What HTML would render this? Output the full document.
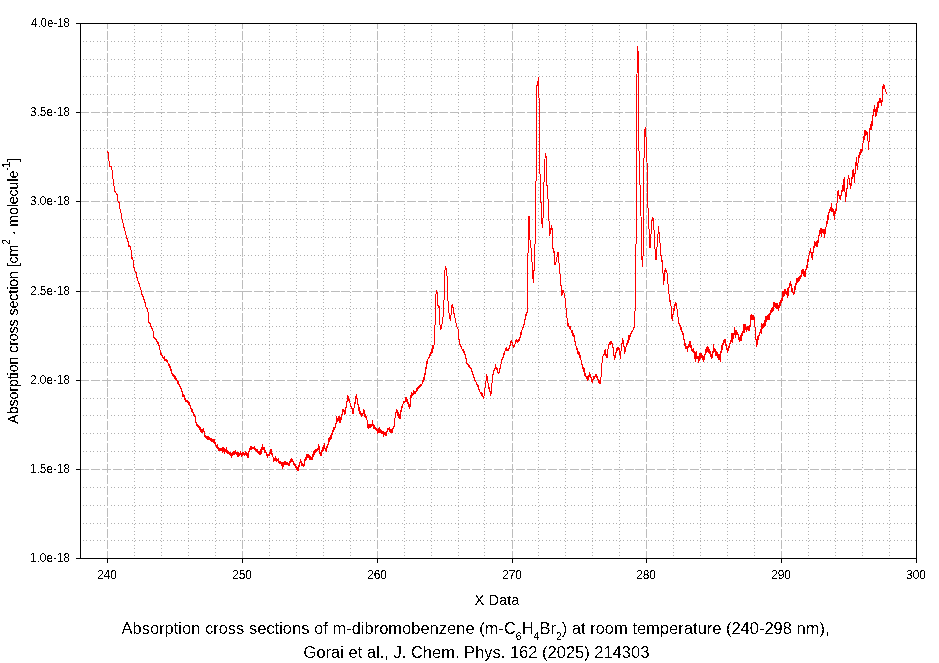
<!DOCTYPE html>
<html><head><meta charset="utf-8"><style>
html,body{margin:0;padding:0;background:#fff;}
body{width:939px;height:663px;overflow:hidden;position:relative;}
svg{position:absolute;left:0;top:0;}
text{font-family:"Liberation Sans",sans-serif;fill:#000;}
</style></head><body>
<svg width="939" height="663" viewBox="0 0 939 663">
<rect x="0" y="0" width="939" height="663" fill="#fff"/>

<path d="M134.5,24V558M161.5,24V558M188.5,24V558M215.5,24V558M269.5,24V558M296.5,24V558M323.5,24V558M350.5,24V558M404.5,24V558M431.5,24V558M458.5,24V558M484.5,24V558M538.5,24V558M565.5,24V558M592.5,24V558M619.5,24V558M673.5,24V558M700.5,24V558M727.5,24V558M754.5,24V558M808.5,24V558M835.5,24V558M862.5,24V558M889.5,24V558" stroke="#b0b0b0" stroke-width="1" stroke-dasharray="1 2.511" stroke-dashoffset="2.511" shape-rendering="crispEdges" fill="none"/>
<path d="M81,540.5H916M81,523.5H916M81,505.5H916M81,487.5H916M81,451.5H916M81,433.5H916M81,415.5H916M81,398.5H916M81,362.5H916M81,344.5H916M81,326.5H916M81,308.5H916M81,273.5H916M81,255.5H916M81,237.5H916M81,219.5H916M81,183.5H916M81,166.5H916M81,148.5H916M81,130.5H916M81,94.5H916M81,76.5H916M81,59.5H916M81,41.5H916" stroke="#b0b0b0" stroke-width="1" stroke-dasharray="1 2.511" stroke-dashoffset="2.011" shape-rendering="crispEdges" fill="none"/>
<path d="M107.5,24V559M242.5,24V559M377.5,24V559M512.5,24V559M646.5,24V559M781.5,24V559" stroke="#bcbcbc" stroke-width="1" stroke-dasharray="9 1.833" stroke-dashoffset="3.833" shape-rendering="crispEdges" fill="none"/>
<path d="M81,469.5H916M81,380.5H916M81,291.5H916M81,201.5H916M81,112.5H916" stroke="#bcbcbc" stroke-width="1" stroke-dasharray="9 1.889" stroke-dashoffset="0.9" shape-rendering="crispEdges" fill="none"/>
<rect x="80.5" y="23.5" width="836" height="535" fill="none" stroke="#000" stroke-width="1"/>
<path d="M76,558.5H80M76,469.5H80M76,380.5H80M76,291.5H80M76,201.5H80M76,112.5H80M76,23.5H80M107.5,558V563M242.5,558V563M377.5,558V563M512.5,558V563M646.5,558V563M781.5,558V563M916.5,558V563" stroke="#000" stroke-width="1" fill="none"/>
<path d="M107.40,151.7 L107.58,152.0 L107.76,151.7 L107.94,152.0 L108.12,151.9 L108.30,152.7 L108.50,156.2 L108.70,159.1 L108.88,160.4 L109.06,161.7 L109.24,163.1 L109.42,165.3 L109.60,166.4 L109.76,166.0 L109.92,166.8 L110.07,165.9 L110.23,166.7 L110.39,166.9 L110.55,166.6 L110.71,166.1 L110.87,167.0 L111.03,166.4 L111.18,166.7 L111.34,167.0 L111.50,167.1 L111.67,168.4 L111.85,169.7 L112.03,170.2 L112.20,172.3 L112.40,174.0 L112.60,175.6 L112.80,178.5 L112.97,178.9 L113.13,180.2 L113.30,181.4 L113.47,181.7 L113.63,182.5 L113.80,183.0 L113.95,185.2 L114.10,186.5 L114.25,187.1 L114.40,188.3 L114.55,189.4 L114.70,190.8 L114.86,191.2 L115.03,191.3 L115.19,191.4 L115.35,192.1 L115.51,192.7 L115.67,192.9 L115.84,192.8 L116.00,193.2 L116.16,193.2 L116.33,193.2 L116.49,193.5 L116.65,193.6 L116.81,194.6 L116.97,194.1 L117.14,194.7 L117.30,194.9 L117.45,196.8 L117.60,197.7 L117.75,199.2 L117.90,200.0 L118.06,200.9 L118.23,201.5 L118.39,202.1 L118.55,202.4 L118.71,202.8 L118.88,202.7 L119.04,203.0 L119.20,202.9 L119.36,204.6 L119.51,205.6 L119.67,205.9 L119.83,207.2 L119.99,208.8 L120.14,209.7 L120.30,210.3 L120.45,211.2 L120.60,211.8 L120.75,211.9 L120.90,211.9 L121.05,213.1 L121.20,213.6 L121.36,214.1 L121.52,215.4 L121.68,216.8 L121.84,218.1 L122.00,219.1 L122.16,219.9 L122.31,221.0 L122.47,220.5 L122.63,221.3 L122.79,222.2 L122.94,222.8 L123.10,223.5 L123.25,223.7 L123.40,224.6 L123.55,224.9 L123.70,225.8 L123.85,226.8 L124.00,227.6 L124.15,227.8 L124.30,228.4 L124.45,230.7 L124.60,230.4 L124.76,230.8 L124.92,230.3 L125.07,231.8 L125.23,232.8 L125.39,232.8 L125.55,233.6 L125.71,233.4 L125.87,233.5 L126.03,234.9 L126.18,236.0 L126.34,236.3 L126.50,236.9 L126.66,236.5 L126.83,237.4 L126.99,238.7 L127.15,238.8 L127.31,239.2 L127.47,240.6 L127.64,240.4 L127.80,241.9 L127.97,242.2 L128.13,241.8 L128.30,243.5 L128.47,244.7 L128.63,244.2 L128.80,244.9 L128.96,247.0 L129.12,245.5 L129.28,245.7 L129.44,246.5 L129.60,245.6 L129.76,246.4 L129.92,245.3 L130.08,246.0 L130.24,246.8 L130.40,247.7 L130.60,248.4 L130.80,249.2 L131.00,249.4 L131.20,255.2 L131.40,258.3 L131.56,258.2 L131.72,257.0 L131.88,258.2 L132.04,258.2 L132.20,258.5 L132.36,258.4 L132.52,258.0 L132.68,258.8 L132.84,258.5 L133.00,259.6 L133.20,261.9 L133.40,263.2 L133.60,266.8 L133.76,267.0 L133.93,267.5 L134.09,267.9 L134.25,267.6 L134.41,269.4 L134.57,269.4 L134.74,270.6 L134.90,270.0 L135.06,271.3 L135.22,271.3 L135.39,271.1 L135.55,271.8 L135.71,272.2 L135.88,272.8 L136.04,273.4 L136.20,272.8 L136.35,273.9 L136.50,274.9 L136.65,274.8 L136.80,275.7 L136.96,277.4 L137.12,277.8 L137.29,278.1 L137.45,279.0 L137.61,279.7 L137.78,279.9 L137.94,280.7 L138.10,282.1 L138.26,282.4 L138.43,283.0 L138.59,283.6 L138.75,283.3 L138.91,284.0 L139.07,283.7 L139.24,285.0 L139.40,286.0 L139.57,285.5 L139.74,286.2 L139.91,286.4 L140.09,287.8 L140.26,287.3 L140.43,287.6 L140.60,288.6 L140.76,289.0 L140.93,289.4 L141.09,290.0 L141.25,290.4 L141.41,292.4 L141.57,292.1 L141.74,293.4 L141.90,294.5 L142.06,294.5 L142.22,294.7 L142.39,294.7 L142.55,295.4 L142.71,296.3 L142.88,296.2 L143.04,296.0 L143.20,296.4 L143.36,297.4 L143.52,297.2 L143.69,298.3 L143.85,299.3 L144.01,298.8 L144.18,300.3 L144.34,300.5 L144.50,300.4 L144.66,301.9 L144.82,300.8 L144.99,302.4 L145.15,303.9 L145.31,304.2 L145.48,304.9 L145.64,305.5 L145.80,305.4 L146.00,307.1 L146.20,308.0 L146.40,307.6 L146.55,308.3 L146.70,308.5 L146.85,308.0 L147.00,309.4 L147.15,308.0 L147.30,309.4 L147.45,310.1 L147.60,309.8 L147.75,310.6 L147.90,309.5 L148.06,312.7 L148.22,314.0 L148.38,317.5 L148.54,318.7 L148.70,322.1 L148.86,321.2 L149.02,321.8 L149.18,322.0 L149.34,322.5 L149.50,323.0 L149.66,322.8 L149.82,323.6 L149.98,323.1 L150.14,323.3 L150.30,323.6 L150.47,324.4 L150.64,324.9 L150.81,324.6 L150.99,326.5 L151.16,327.1 L151.33,328.0 L151.50,328.1 L151.66,328.1 L151.82,328.3 L151.99,328.6 L152.15,328.3 L152.31,329.8 L152.48,330.3 L152.64,330.4 L152.80,330.1 L152.98,331.3 L153.15,331.9 L153.32,336.2 L153.50,335.8 L153.66,336.7 L153.82,336.3 L153.97,337.7 L154.13,337.3 L154.29,337.0 L154.45,337.7 L154.61,337.7 L154.77,337.9 L154.93,339.1 L155.08,339.4 L155.24,339.4 L155.40,338.6 L155.56,339.1 L155.72,339.0 L155.88,339.5 L156.03,339.6 L156.19,340.1 L156.35,339.8 L156.51,341.7 L156.67,340.5 L156.83,340.6 L156.98,341.4 L157.14,342.7 L157.30,343.0 L157.46,342.6 L157.62,341.9 L157.78,343.1 L157.93,343.1 L158.09,342.3 L158.25,343.2 L158.41,343.7 L158.57,345.0 L158.72,344.8 L158.88,344.8 L159.04,345.7 L159.20,345.4 L159.36,346.4 L159.52,348.3 L159.69,347.9 L159.85,349.0 L160.01,350.3 L160.18,351.9 L160.34,351.9 L160.50,352.3 L160.66,354.0 L160.82,354.3 L160.97,353.3 L161.13,354.8 L161.29,353.8 L161.45,355.2 L161.61,354.6 L161.77,355.0 L161.93,355.9 L162.08,355.7 L162.24,356.1 L162.40,356.6 L162.55,357.3 L162.71,357.6 L162.86,357.3 L163.02,356.6 L163.17,358.2 L163.32,357.0 L163.48,358.2 L163.63,358.6 L163.78,358.8 L163.94,357.8 L164.09,359.4 L164.25,357.7 L164.40,359.3 L164.56,356.8 L164.72,360.8 L164.88,358.9 L165.03,359.1 L165.19,359.4 L165.35,359.6 L165.51,359.1 L165.67,360.9 L165.83,360.7 L165.98,360.2 L166.14,361.2 L166.30,359.1 L166.46,361.4 L166.62,361.8 L166.79,360.9 L166.95,360.6 L167.11,360.8 L167.28,362.0 L167.44,361.0 L167.60,362.7 L167.76,362.7 L167.92,362.2 L168.07,364.2 L168.23,364.4 L168.39,364.3 L168.55,363.3 L168.71,364.1 L168.87,365.4 L169.03,365.2 L169.18,366.7 L169.34,364.4 L169.50,367.4 L169.66,367.9 L169.82,368.0 L169.97,366.4 L170.13,366.9 L170.29,368.8 L170.45,369.3 L170.61,368.4 L170.77,370.2 L170.93,369.3 L171.08,370.8 L171.24,369.4 L171.40,370.9 L171.56,370.1 L171.72,371.9 L171.89,373.8 L172.05,373.4 L172.21,373.1 L172.38,374.7 L172.54,373.3 L172.70,376.0 L172.86,374.0 L173.02,375.8 L173.19,374.2 L173.35,375.0 L173.51,376.9 L173.68,374.8 L173.84,376.8 L174.00,375.5 L174.16,375.5 L174.31,377.0 L174.47,377.0 L174.62,377.8 L174.78,378.3 L174.94,378.7 L175.09,376.7 L175.25,377.6 L175.41,376.2 L175.56,378.0 L175.72,379.4 L175.88,379.9 L176.03,379.8 L176.19,378.7 L176.34,380.1 L176.50,379.2 L176.65,379.0 L176.81,379.4 L176.96,380.0 L177.12,380.0 L177.27,381.7 L177.42,382.6 L177.58,381.2 L177.73,383.5 L177.88,381.8 L178.04,383.7 L178.19,382.6 L178.35,383.4 L178.50,383.4 L178.66,383.9 L178.81,381.7 L178.97,385.0 L179.12,385.6 L179.28,384.5 L179.44,385.5 L179.59,385.9 L179.75,386.7 L179.91,385.2 L180.06,387.2 L180.22,387.9 L180.38,386.5 L180.53,387.4 L180.69,388.4 L180.84,386.3 L181.00,389.3 L181.15,388.6 L181.30,388.6 L181.45,388.2 L181.60,390.7 L181.75,390.2 L181.90,389.6 L182.05,392.2 L182.20,391.5 L182.35,392.7 L182.50,393.3 L182.65,391.9 L182.80,392.4 L182.60,395.0 L182.75,396.9 L182.90,396.2 L183.05,394.5 L183.20,396.2 L183.35,395.7 L183.50,396.4 L183.65,395.0 L183.80,395.9 L183.95,395.6 L184.10,394.9 L184.26,395.6 L184.43,395.4 L184.59,396.5 L184.75,399.1 L184.91,397.8 L185.07,400.4 L185.24,398.6 L185.40,399.8 L185.55,401.8 L185.71,400.5 L185.86,399.9 L186.01,400.2 L186.16,401.2 L186.32,401.1 L186.47,400.4 L186.62,401.3 L186.78,400.4 L186.93,401.7 L187.08,399.9 L187.24,402.8 L187.39,402.9 L187.54,401.7 L187.69,401.5 L187.85,400.9 L188.00,401.8 L188.16,403.4 L188.32,402.0 L188.47,401.2 L188.63,403.3 L188.79,403.4 L188.95,404.6 L189.11,402.3 L189.27,402.9 L189.43,405.3 L189.58,403.7 L189.74,403.4 L189.90,404.4 L190.06,405.5 L190.22,407.6 L190.39,406.6 L190.55,406.7 L190.71,407.5 L190.88,408.9 L191.04,408.5 L191.20,409.1 L191.36,411.3 L191.52,410.0 L191.67,411.2 L191.83,409.8 L191.99,411.7 L192.15,411.6 L192.31,412.2 L192.47,411.3 L192.62,409.1 L192.78,410.8 L192.94,412.7 L193.10,412.7 L193.26,414.5 L193.42,412.4 L193.57,413.1 L193.73,415.6 L193.89,415.4 L194.05,415.9 L194.21,414.3 L194.37,416.9 L194.53,415.9 L194.68,415.6 L194.84,415.1 L195.00,416.3 L195.16,418.0 L195.32,419.9 L195.49,419.5 L195.65,417.7 L195.81,422.0 L195.98,422.1 L196.14,424.2 L196.30,424.6 L196.46,424.7 L196.62,425.4 L196.79,425.9 L196.95,423.8 L197.11,424.7 L197.28,424.3 L197.44,426.6 L197.60,425.3 L197.76,426.8 L197.92,425.6 L198.07,426.5 L198.23,427.3 L198.39,427.8 L198.55,425.7 L198.71,427.3 L198.87,427.0 L199.03,426.0 L199.18,429.1 L199.34,426.7 L199.50,428.2 L199.66,428.3 L199.82,429.6 L199.97,428.1 L200.13,427.6 L200.29,429.9 L200.45,429.5 L200.61,428.6 L200.77,431.6 L200.93,429.0 L201.08,430.9 L201.24,431.4 L201.40,432.6 L201.56,430.6 L201.71,432.6 L201.87,429.5 L202.03,431.1 L202.19,430.1 L202.34,431.0 L202.50,431.1 L202.66,431.7 L202.81,429.0 L202.97,432.4 L203.13,431.3 L203.29,428.6 L203.44,431.4 L203.60,430.4 L203.77,431.1 L203.93,430.5 L204.10,433.1 L204.27,431.9 L204.43,435.5 L204.60,434.1 L204.75,436.3 L204.91,434.6 L205.06,435.6 L205.21,437.3 L205.36,437.3 L205.52,437.5 L205.67,436.7 L205.82,435.1 L205.98,435.7 L206.13,437.6 L206.28,437.3 L206.44,438.4 L206.59,438.1 L206.74,436.4 L206.89,436.4 L207.05,436.6 L207.20,437.7 L207.35,439.3 L207.50,439.8 L207.66,439.1 L207.81,437.2 L207.96,437.2 L208.11,438.0 L208.26,438.6 L208.42,439.9 L208.57,437.2 L208.72,438.4 L208.87,436.3 L209.02,438.4 L209.18,438.3 L209.33,438.9 L209.48,439.9 L209.63,437.6 L209.78,437.9 L209.94,438.8 L210.09,440.0 L210.24,439.9 L210.39,441.0 L210.54,439.1 L210.70,438.0 L210.85,440.4 L211.00,440.8 L211.15,439.6 L211.30,441.1 L211.46,439.6 L211.61,438.7 L211.76,439.1 L211.91,441.8 L212.07,440.8 L212.22,441.5 L212.37,440.5 L212.52,440.5 L212.68,439.5 L212.83,441.2 L212.98,441.5 L213.13,439.2 L213.29,440.3 L213.44,440.7 L213.59,440.2 L213.74,439.6 L213.90,442.5 L214.05,442.6 L214.20,443.1 L214.35,440.9 L214.51,439.2 L214.66,443.1 L214.82,443.6 L214.97,442.4 L215.12,442.3 L215.28,443.2 L215.43,446.0 L215.58,445.8 L215.74,445.4 L215.89,444.7 L216.05,444.9 L216.20,445.8 L216.35,446.0 L216.50,447.1 L216.66,445.5 L216.81,447.5 L216.96,448.3 L217.11,446.5 L217.27,447.6 L217.42,448.4 L217.57,444.6 L217.72,446.6 L217.88,448.3 L218.03,447.8 L218.18,448.5 L218.33,450.3 L218.49,447.8 L218.64,449.4 L218.79,447.9 L218.94,448.6 L219.10,450.2 L219.25,448.6 L219.40,450.7 L219.55,449.4 L219.70,450.0 L219.85,450.0 L220.01,448.7 L220.16,448.0 L220.31,448.3 L220.46,449.3 L220.61,448.5 L220.76,450.5 L220.91,450.5 L221.07,448.5 L221.22,448.0 L221.37,448.0 L221.52,449.8 L221.67,450.4 L221.82,449.4 L221.97,450.4 L222.13,448.7 L222.28,452.4 L222.43,448.2 L222.58,449.0 L222.73,449.1 L222.88,448.5 L223.03,446.7 L223.19,449.9 L223.34,451.1 L223.49,450.7 L223.64,449.3 L223.79,450.9 L223.94,450.2 L224.09,451.4 L224.25,449.9 L224.40,448.8 L224.55,450.0 L224.70,453.2 L224.85,449.8 L225.00,451.5 L225.15,448.9 L225.30,450.8 L225.45,450.8 L225.60,451.6 L225.75,451.9 L225.90,451.6 L226.05,451.3 L226.20,452.2 L226.35,451.4 L226.50,449.8 L226.65,447.9 L226.80,449.6 L226.95,452.2 L227.10,451.5 L227.25,451.9 L227.40,450.2 L227.55,453.3 L227.70,453.2 L227.85,452.8 L228.00,452.6 L228.15,452.8 L228.30,453.9 L228.45,452.7 L228.60,453.7 L228.75,451.9 L228.90,453.3 L229.05,452.4 L229.20,453.7 L229.35,453.3 L229.50,453.8 L229.65,454.1 L229.80,452.8 L229.95,454.5 L230.10,452.2 L230.25,453.2 L230.40,453.4 L230.55,454.9 L230.70,453.2 L230.85,455.7 L231.00,455.3 L231.15,455.7 L231.30,453.8 L231.45,454.5 L231.60,454.6 L231.75,457.4 L231.90,454.7 L232.05,454.8 L232.20,453.9 L232.35,453.4 L232.50,454.3 L232.65,454.2 L232.80,455.2 L232.95,452.5 L233.10,452.4 L233.25,453.7 L233.40,451.8 L233.55,451.8 L233.70,452.7 L233.85,454.3 L234.00,454.4 L234.15,454.3 L234.30,451.6 L234.45,452.1 L234.60,454.1 L234.75,451.6 L234.90,452.3 L235.05,452.7 L235.20,450.6 L235.35,452.5 L235.50,451.8 L235.66,452.4 L235.81,454.1 L235.96,453.8 L236.11,454.5 L236.27,452.9 L236.42,452.1 L236.57,452.4 L236.72,454.6 L236.88,453.5 L237.03,453.5 L237.18,454.1 L237.34,452.6 L237.49,453.8 L237.64,455.1 L237.79,456.5 L237.94,454.2 L238.10,454.9 L238.25,454.6 L238.40,453.0 L238.56,452.6 L238.71,456.1 L238.86,453.5 L239.01,454.8 L239.16,454.7 L239.32,455.9 L239.47,454.8 L239.62,453.9 L239.78,455.5 L239.93,453.9 L240.08,454.4 L240.23,453.7 L240.39,454.5 L240.54,451.2 L240.69,453.8 L240.84,453.3 L241.00,455.3 L241.15,454.7 L241.30,454.2 L241.45,456.5 L241.60,453.6 L241.75,453.7 L241.90,455.2 L242.05,455.5 L242.20,453.0 L242.35,454.3 L242.50,455.4 L242.65,454.3 L242.80,452.6 L242.95,453.7 L243.10,453.0 L243.25,453.9 L243.40,452.4 L243.55,453.9 L243.70,454.1 L243.85,453.6 L244.00,455.3 L244.15,455.2 L244.30,454.9 L244.45,454.5 L244.60,453.0 L244.75,454.8 L244.90,454.2 L245.05,453.1 L245.20,452.4 L245.35,454.6 L245.50,452.8 L245.65,454.0 L245.80,451.6 L245.96,454.3 L246.11,453.5 L246.27,452.2 L246.43,453.1 L246.59,453.4 L246.74,453.9 L246.90,455.8 L247.06,455.5 L247.21,453.7 L247.37,453.7 L247.53,454.1 L247.69,455.0 L247.84,456.0 L248.00,458.1 L248.15,456.6 L248.31,454.5 L248.46,454.6 L248.61,453.5 L248.77,451.4 L248.92,452.4 L249.07,451.9 L249.23,450.0 L249.38,451.7 L249.53,450.3 L249.69,451.5 L249.84,448.0 L249.99,448.6 L250.15,449.4 L250.30,448.3 L250.45,447.0 L250.61,449.2 L250.76,448.2 L250.91,446.0 L251.07,446.5 L251.22,447.6 L251.37,449.1 L251.53,447.9 L251.68,448.3 L251.83,448.6 L251.99,446.5 L252.14,449.0 L252.29,448.4 L252.45,448.1 L252.60,447.8 L252.75,447.1 L252.91,448.3 L253.06,447.8 L253.21,448.8 L253.37,447.5 L253.52,447.1 L253.67,447.6 L253.83,448.5 L253.98,448.8 L254.13,448.1 L254.29,449.7 L254.44,446.7 L254.59,447.6 L254.75,447.5 L254.90,447.1 L255.06,449.4 L255.21,448.1 L255.37,450.3 L255.52,450.1 L255.68,450.7 L255.83,449.2 L255.99,449.1 L256.14,450.2 L256.30,449.9 L256.45,449.7 L256.61,451.4 L256.76,449.6 L256.92,450.2 L257.07,449.3 L257.23,452.2 L257.38,451.6 L257.54,450.4 L257.69,452.4 L257.85,452.1 L258.00,451.4 L258.16,451.2 L258.31,451.1 L258.47,452.9 L258.62,453.1 L258.78,453.2 L258.93,452.6 L259.09,455.1 L259.24,452.5 L259.40,453.8 L259.55,453.8 L259.70,451.7 L259.85,451.6 L260.00,450.9 L260.15,453.0 L260.30,454.5 L260.45,449.9 L260.60,449.5 L260.75,449.4 L260.90,449.1 L261.05,453.7 L261.20,450.5 L261.35,448.6 L261.50,448.0 L261.65,449.9 L261.80,448.4 L261.95,449.2 L262.10,447.2 L262.25,449.3 L262.40,446.1 L262.55,444.5 L262.70,449.2 L262.85,447.6 L263.00,447.5 L263.15,449.8 L263.30,447.5 L263.45,448.6 L263.60,449.8 L263.75,449.0 L263.90,449.9 L264.05,449.3 L264.20,448.3 L264.35,447.5 L264.50,451.3 L264.65,449.4 L264.80,452.3 L264.95,450.3 L265.10,452.7 L265.25,451.3 L265.40,451.2 L265.55,452.6 L265.70,450.5 L265.85,452.4 L266.00,452.2 L266.15,454.0 L266.30,452.1 L266.45,452.4 L266.60,453.6 L266.75,455.1 L266.90,452.2 L267.05,454.0 L267.20,455.6 L267.35,455.6 L267.50,454.9 L267.65,457.3 L267.80,454.0 L267.95,453.8 L268.10,455.3 L268.25,455.1 L268.40,454.8 L268.55,454.6 L268.70,454.5 L268.85,455.2 L269.00,455.7 L269.15,455.8 L269.30,453.2 L269.45,452.8 L269.60,453.4 L269.75,454.2 L269.90,452.5 L270.05,454.0 L270.20,452.5 L270.35,449.5 L270.50,452.4 L270.65,451.6 L270.80,451.4 L270.95,451.0 L271.10,453.3 L271.25,451.7 L271.40,451.4 L271.55,449.2 L271.71,451.0 L271.86,452.8 L272.01,455.1 L272.17,454.0 L272.32,455.7 L272.47,453.8 L272.63,455.5 L272.78,455.8 L272.93,456.4 L273.09,457.1 L273.24,457.5 L273.39,460.6 L273.55,460.5 L273.70,461.7 L273.85,460.9 L274.00,460.3 L274.16,460.1 L274.31,460.6 L274.46,458.6 L274.61,458.7 L274.76,460.7 L274.92,458.4 L275.07,458.0 L275.22,458.4 L275.37,458.6 L275.52,456.8 L275.68,460.6 L275.83,458.2 L275.98,461.0 L276.13,457.9 L276.28,458.1 L276.44,459.1 L276.59,461.3 L276.74,458.1 L276.89,459.6 L277.04,459.3 L277.20,459.9 L277.35,459.1 L277.50,459.4 L277.65,460.4 L277.80,460.2 L277.95,459.5 L278.10,458.0 L278.25,458.2 L278.40,459.7 L278.55,460.4 L278.70,461.2 L278.85,461.7 L279.00,462.4 L279.15,461.7 L279.30,462.9 L279.45,461.1 L279.60,463.3 L279.75,463.0 L279.90,462.6 L280.05,461.7 L280.20,462.7 L280.35,463.5 L280.50,463.8 L280.65,461.6 L280.80,462.0 L280.95,461.8 L281.10,463.2 L281.25,463.5 L281.40,463.6 L281.55,463.7 L281.70,465.5 L281.85,466.1 L282.00,465.1 L282.15,464.6 L282.30,468.1 L282.45,462.4 L282.60,465.7 L282.75,465.1 L282.90,463.4 L283.05,462.7 L283.20,465.2 L283.35,465.3 L283.50,462.8 L283.65,465.3 L283.80,464.5 L283.95,466.8 L284.10,462.1 L284.25,464.6 L284.40,464.7 L284.55,462.9 L284.70,463.7 L284.85,461.4 L285.00,462.8 L285.15,461.5 L285.31,464.4 L285.46,462.3 L285.62,463.0 L285.77,462.6 L285.92,463.9 L286.08,463.6 L286.23,463.5 L286.38,463.1 L286.54,462.3 L286.69,462.1 L286.85,464.8 L287.00,464.5 L287.15,463.7 L287.31,463.5 L287.46,463.9 L287.62,464.3 L287.77,462.0 L287.92,464.3 L288.08,464.3 L288.23,463.5 L288.38,465.3 L288.54,465.4 L288.69,464.7 L288.85,465.2 L289.00,465.3 L289.15,465.6 L289.31,463.2 L289.46,464.0 L289.61,462.8 L289.77,462.8 L289.92,461.6 L290.07,463.2 L290.23,462.3 L290.38,462.6 L290.53,460.2 L290.69,459.4 L290.84,460.0 L290.99,458.9 L291.15,459.0 L291.30,459.6 L291.45,458.0 L291.60,458.7 L291.76,461.8 L291.91,461.3 L292.06,459.5 L292.21,461.5 L292.36,459.4 L292.52,461.4 L292.67,459.9 L292.82,461.7 L292.97,461.3 L293.12,461.5 L293.28,463.9 L293.43,461.2 L293.58,463.9 L293.73,462.6 L293.88,465.1 L294.04,465.1 L294.19,465.0 L294.34,463.5 L294.49,464.4 L294.64,463.8 L294.80,464.9 L294.95,465.6 L295.10,463.8 L295.25,464.1 L295.40,467.4 L295.55,467.8 L295.70,465.4 L295.85,466.1 L296.00,466.0 L296.15,468.0 L296.30,466.7 L296.45,468.0 L296.60,466.1 L296.75,469.5 L296.90,468.6 L297.05,468.0 L297.20,470.0 L297.35,467.2 L297.50,470.5 L297.65,468.0 L297.80,468.7 L297.95,471.1 L298.10,468.6 L298.25,469.2 L298.41,470.2 L298.56,469.1 L298.71,467.2 L298.87,469.8 L299.02,464.8 L299.17,464.1 L299.33,466.6 L299.48,463.9 L299.63,464.2 L299.79,462.9 L299.94,462.6 L300.09,461.8 L300.25,460.3 L300.40,461.5 L300.55,459.9 L300.70,462.2 L300.85,460.0 L301.00,462.6 L301.15,462.0 L301.30,461.2 L301.45,463.7 L301.60,461.8 L301.75,465.8 L301.90,462.6 L302.05,464.2 L302.20,465.5 L302.35,465.2 L302.50,463.9 L302.65,466.0 L302.80,465.8 L302.95,464.2 L303.10,467.2 L303.25,465.6 L303.40,464.6 L303.55,466.6 L303.71,466.5 L303.86,464.1 L304.02,464.3 L304.17,465.3 L304.32,459.7 L304.48,465.7 L304.63,461.6 L304.79,461.4 L304.94,462.2 L305.10,459.9 L305.25,459.5 L305.40,460.3 L305.56,458.5 L305.71,458.4 L305.87,457.6 L306.02,459.1 L306.18,459.4 L306.33,458.0 L306.48,456.0 L306.64,454.9 L306.79,455.2 L306.95,454.2 L307.10,457.3 L307.25,454.7 L307.41,456.6 L307.56,454.1 L307.71,456.3 L307.87,455.6 L308.02,455.1 L308.17,457.0 L308.33,457.1 L308.48,455.1 L308.63,454.9 L308.79,457.6 L308.94,457.9 L309.09,456.3 L309.25,455.7 L309.40,459.3 L309.55,457.0 L309.71,459.0 L309.86,457.8 L310.01,456.9 L310.17,456.0 L310.32,457.5 L310.47,458.4 L310.63,459.2 L310.78,457.3 L310.93,458.5 L311.09,457.8 L311.24,460.0 L311.39,458.3 L311.55,457.6 L311.70,458.3 L311.85,459.0 L312.00,459.1 L312.15,459.7 L312.30,456.5 L312.45,457.0 L312.60,457.5 L312.75,455.5 L312.90,454.0 L313.05,455.1 L313.20,454.8 L313.35,453.9 L313.50,456.5 L313.65,456.5 L313.80,451.4 L313.95,454.9 L314.10,455.1 L314.25,451.7 L314.40,452.5 L314.55,452.7 L314.70,452.7 L314.85,450.8 L315.00,450.3 L315.16,452.9 L315.31,451.3 L315.46,452.4 L315.61,452.9 L315.76,449.7 L315.92,450.5 L316.07,450.3 L316.22,449.9 L316.37,449.5 L316.52,451.5 L316.68,449.4 L316.83,450.7 L316.98,451.1 L317.13,448.9 L317.28,448.9 L317.44,449.9 L317.59,449.9 L317.74,448.9 L317.89,448.6 L318.04,448.8 L318.20,444.5 L318.35,448.5 L318.50,448.1 L318.66,449.6 L318.81,447.7 L318.97,449.6 L319.13,446.7 L319.29,451.2 L319.44,451.3 L319.60,451.5 L319.76,452.6 L319.91,453.8 L320.07,451.9 L320.23,453.0 L320.39,453.9 L320.54,454.3 L320.70,454.2 L320.85,454.6 L321.00,455.8 L321.16,454.3 L321.31,454.6 L321.46,452.2 L321.61,451.6 L321.76,453.3 L321.92,450.7 L322.07,449.9 L322.22,452.1 L322.37,449.2 L322.52,449.5 L322.68,450.2 L322.83,448.6 L322.98,447.4 L323.13,445.2 L323.28,450.4 L323.44,449.5 L323.59,446.5 L323.74,447.3 L323.89,448.0 L324.04,445.7 L324.20,445.2 L324.35,448.2 L324.50,446.3 L324.65,443.1 L324.80,446.4 L324.95,447.0 L325.10,449.8 L325.25,448.8 L325.40,450.5 L325.55,450.4 L325.70,450.5 L325.85,450.9 L326.00,450.3 L326.15,452.1 L326.31,451.4 L326.46,448.6 L326.61,447.7 L326.77,450.2 L326.92,446.6 L327.07,448.3 L327.23,445.9 L327.38,444.7 L327.53,445.5 L327.69,444.9 L327.84,445.7 L327.99,445.5 L328.15,443.2 L328.30,444.5 L328.45,440.9 L328.60,443.7 L328.75,440.9 L328.90,441.3 L329.05,437.3 L329.20,440.7 L329.35,441.7 L329.50,441.4 L329.65,441.1 L329.80,438.9 L329.95,437.8 L330.10,436.8 L330.25,439.6 L330.40,438.5 L330.55,435.8 L330.70,438.6 L330.85,435.6 L331.00,436.1 L331.15,437.1 L331.30,437.4 L331.45,438.6 L331.60,435.5 L331.75,435.8 L331.90,433.5 L332.05,433.5 L332.20,434.7 L332.35,433.4 L332.50,434.1 L332.65,433.3 L332.80,432.6 L332.95,430.6 L333.10,432.1 L333.25,428.1 L333.40,427.9 L333.55,428.9 L333.70,429.2 L333.85,430.3 L334.00,429.5 L334.15,429.8 L334.30,427.4 L334.45,428.9 L334.60,428.5 L334.75,428.3 L334.90,429.7 L335.05,427.0 L335.20,424.9 L335.35,424.5 L335.50,427.1 L335.65,424.9 L335.80,426.3 L335.95,423.8 L336.10,422.6 L336.25,423.5 L336.40,421.5 L336.55,420.0 L336.70,419.8 L336.85,416.8 L337.00,421.3 L337.15,418.7 L337.30,418.1 L337.45,419.3 L337.60,419.6 L337.75,421.3 L337.90,418.2 L338.05,418.5 L338.20,417.9 L338.35,420.9 L338.50,418.6 L338.65,420.5 L338.80,420.1 L338.95,416.3 L339.10,418.0 L339.25,421.4 L339.40,420.9 L339.55,416.8 L339.70,420.0 L339.85,416.1 L340.00,423.0 L340.15,421.0 L340.30,419.7 L340.45,421.0 L340.60,417.8 L340.75,419.8 L340.90,418.7 L341.05,417.3 L341.20,418.0 L341.35,415.8 L341.50,419.5 L341.65,416.3 L341.80,416.0 L341.95,414.8 L342.10,413.7 L342.25,414.1 L342.40,414.4 L342.55,410.6 L342.70,412.5 L342.85,409.5 L343.00,412.2 L343.15,411.5 L343.30,409.0 L343.46,411.4 L343.62,410.9 L343.78,409.6 L343.94,410.0 L344.10,411.5 L344.26,410.2 L344.42,410.5 L344.58,411.5 L344.74,411.1 L344.90,414.3 L345.05,413.4 L345.20,411.6 L345.35,410.8 L345.50,410.8 L345.65,407.5 L345.80,408.5 L345.95,408.3 L346.10,406.8 L346.25,406.6 L346.40,405.8 L346.55,403.4 L346.70,404.5 L346.85,401.2 L347.00,402.7 L347.15,400.9 L347.30,398.8 L347.45,398.0 L347.60,397.8 L347.75,399.8 L347.90,395.7 L348.06,397.1 L348.21,396.4 L348.37,398.6 L348.53,399.0 L348.69,400.2 L348.84,399.0 L349.00,399.5 L349.16,402.2 L349.31,399.6 L349.47,402.9 L349.63,399.8 L349.79,402.2 L349.94,401.7 L350.10,404.1 L350.25,405.0 L350.41,404.8 L350.56,405.1 L350.72,405.3 L350.88,405.5 L351.03,407.0 L351.19,407.4 L351.34,408.9 L351.50,406.8 L351.65,408.7 L351.81,408.1 L351.96,408.3 L352.12,409.0 L352.27,409.9 L352.43,408.1 L352.58,410.3 L352.74,411.0 L352.89,413.6 L353.05,413.1 L353.20,412.8 L353.35,413.7 L353.50,412.5 L353.65,410.5 L353.80,410.1 L353.95,408.3 L354.10,407.0 L354.25,406.5 L354.40,407.7 L354.55,406.6 L354.70,404.4 L354.85,402.1 L355.00,402.9 L355.15,402.4 L355.30,403.7 L355.45,401.5 L355.60,396.7 L355.75,397.6 L355.90,397.7 L356.05,395.6 L356.20,393.9 L356.36,396.4 L356.51,397.1 L356.67,396.7 L356.83,398.2 L356.99,398.4 L357.14,399.0 L357.30,399.0 L357.46,403.5 L357.61,401.8 L357.77,404.9 L357.93,404.2 L358.09,404.8 L358.24,405.8 L358.40,407.8 L358.55,408.0 L358.70,405.0 L358.85,410.4 L359.00,408.8 L359.15,411.5 L359.30,410.6 L359.45,407.3 L359.60,411.1 L359.75,413.2 L359.90,413.3 L360.05,413.8 L360.20,412.9 L360.35,413.4 L360.50,411.5 L360.65,413.3 L360.80,414.3 L360.95,415.1 L361.10,413.8 L361.25,413.5 L361.40,417.0 L361.55,416.3 L361.71,414.7 L361.86,416.7 L362.01,415.0 L362.17,413.3 L362.32,415.5 L362.47,415.6 L362.63,415.4 L362.78,414.2 L362.93,413.3 L363.09,414.1 L363.24,412.9 L363.39,412.9 L363.55,409.3 L363.70,411.9 L363.85,413.1 L364.00,414.4 L364.15,416.8 L364.30,410.2 L364.45,412.7 L364.60,413.7 L364.75,414.5 L364.90,414.5 L365.05,416.6 L365.20,414.6 L365.35,416.6 L365.50,417.4 L365.65,417.6 L365.80,414.6 L365.95,418.1 L366.10,418.2 L366.25,416.5 L366.40,416.8 L366.55,417.6 L366.70,417.7 L366.86,418.1 L367.02,420.5 L367.18,424.5 L367.34,424.2 L367.50,425.7 L367.65,426.1 L367.80,425.6 L367.95,427.9 L368.10,424.7 L368.25,428.3 L368.40,427.8 L368.55,424.3 L368.70,427.3 L368.85,425.1 L369.00,427.0 L369.15,426.0 L369.30,425.2 L369.45,424.5 L369.60,426.8 L369.75,425.2 L369.90,427.0 L370.05,427.8 L370.20,425.5 L370.35,427.0 L370.50,425.2 L370.66,425.7 L370.81,424.5 L370.97,424.8 L371.12,425.2 L371.28,425.6 L371.44,426.2 L371.59,424.1 L371.75,425.7 L371.91,425.1 L372.06,426.3 L372.22,425.5 L372.38,423.3 L372.53,425.6 L372.69,420.9 L372.84,423.0 L373.00,426.2 L373.15,425.1 L373.30,428.7 L373.45,424.4 L373.60,427.4 L373.75,424.3 L373.90,427.0 L374.05,424.8 L374.20,425.3 L374.35,425.3 L374.50,426.8 L374.65,428.4 L374.80,428.3 L374.95,426.1 L375.10,427.6 L375.25,428.9 L375.40,428.6 L375.55,427.3 L375.70,427.7 L375.85,429.1 L376.00,429.9 L376.15,428.7 L376.30,428.6 L376.45,429.9 L376.60,430.0 L376.75,430.7 L376.90,430.8 L377.05,430.3 L377.20,428.9 L377.35,431.5 L377.50,431.5 L377.65,431.6 L377.81,431.1 L377.96,434.3 L378.11,432.1 L378.27,431.4 L378.42,432.5 L378.57,430.1 L378.73,430.8 L378.88,431.2 L379.03,427.5 L379.19,430.5 L379.34,431.7 L379.49,430.7 L379.65,432.2 L379.80,432.7 L379.95,433.0 L380.11,430.9 L380.26,430.3 L380.41,429.8 L380.57,431.6 L380.72,432.3 L380.87,430.7 L381.03,430.0 L381.18,430.1 L381.33,433.2 L381.49,432.0 L381.64,432.5 L381.79,430.6 L381.95,431.8 L382.10,433.6 L382.25,431.1 L382.40,433.5 L382.55,431.7 L382.70,432.4 L382.85,434.1 L383.00,431.0 L383.15,433.4 L383.30,431.8 L383.45,433.9 L383.60,431.6 L383.75,437.0 L383.90,432.0 L384.05,434.0 L384.20,434.8 L384.35,433.9 L384.50,432.8 L384.65,433.8 L384.80,434.6 L384.95,434.5 L385.10,434.7 L385.25,432.6 L385.40,433.7 L385.55,432.3 L385.70,433.1 L385.85,434.2 L386.00,436.2 L386.15,431.9 L386.30,431.2 L386.45,432.3 L386.60,431.5 L386.75,432.4 L386.90,431.9 L387.05,430.4 L387.20,430.3 L387.35,431.5 L387.50,431.2 L387.65,428.7 L387.80,428.3 L387.95,427.9 L388.10,429.2 L388.25,429.3 L388.40,429.7 L388.56,428.7 L388.71,429.9 L388.86,428.3 L389.01,430.2 L389.16,431.4 L389.32,427.6 L389.47,429.4 L389.62,428.6 L389.77,431.0 L389.92,429.1 L390.08,431.1 L390.23,432.3 L390.38,429.4 L390.53,431.4 L390.68,432.6 L390.84,429.7 L390.99,429.8 L391.14,431.4 L391.29,429.2 L391.44,431.0 L391.60,432.2 L391.75,430.3 L391.90,431.5 L392.06,432.6 L392.21,432.8 L392.37,429.4 L392.53,432.2 L392.69,428.6 L392.84,429.9 L393.00,427.9 L393.16,427.8 L393.31,426.4 L393.47,428.3 L393.63,427.9 L393.79,427.2 L393.94,427.3 L394.10,426.9 L394.25,425.1 L394.41,423.7 L394.56,423.6 L394.71,423.0 L394.87,420.6 L395.02,417.2 L395.17,418.0 L395.33,417.5 L395.48,415.2 L395.63,414.0 L395.79,412.4 L395.94,412.5 L396.09,413.0 L396.25,409.4 L396.40,409.4 L396.55,411.4 L396.70,409.9 L396.85,410.9 L397.00,409.7 L397.15,410.7 L397.30,415.5 L397.45,413.2 L397.60,412.0 L397.75,412.2 L397.90,412.0 L398.05,415.4 L398.20,412.8 L398.35,415.1 L398.50,414.3 L398.65,414.0 L398.80,414.8 L398.95,417.4 L399.10,417.4 L399.25,418.3 L399.40,414.1 L399.55,416.3 L399.70,415.4 L399.86,415.8 L400.01,419.1 L400.16,411.2 L400.31,413.6 L400.46,410.0 L400.62,411.7 L400.77,413.2 L400.92,411.2 L401.07,412.1 L401.22,410.8 L401.38,410.1 L401.53,410.1 L401.68,410.3 L401.83,408.0 L401.98,406.4 L402.14,405.7 L402.29,406.2 L402.44,405.0 L402.59,405.9 L402.74,406.4 L402.90,407.6 L403.05,403.0 L403.20,403.0 L403.35,403.2 L403.50,401.1 L403.65,401.4 L403.80,403.2 L403.95,403.2 L404.10,402.6 L404.25,401.4 L404.40,401.2 L404.55,401.9 L404.70,401.2 L404.85,401.4 L405.00,400.9 L405.15,401.3 L405.30,398.7 L405.45,399.8 L405.60,398.1 L405.75,399.2 L405.90,397.6 L406.05,397.6 L406.20,397.6 L406.35,398.1 L406.50,399.7 L406.66,399.7 L406.81,399.3 L406.96,401.6 L407.11,398.8 L407.26,399.9 L407.42,403.0 L407.57,402.6 L407.72,400.4 L407.87,404.0 L408.02,402.1 L408.18,403.7 L408.33,404.5 L408.48,402.3 L408.63,404.4 L408.78,402.5 L408.94,406.9 L409.09,404.4 L409.24,406.2 L409.39,405.6 L409.54,405.1 L409.70,408.5 L409.85,406.5 L410.00,407.3 L410.18,404.8 L410.35,399.0 L410.52,400.7 L410.70,395.7 L410.85,398.0 L411.00,394.6 L411.15,397.0 L411.30,397.6 L411.45,392.9 L411.60,395.5 L411.75,396.2 L411.90,396.6 L412.05,394.5 L412.20,393.9 L412.35,395.5 L412.50,393.3 L412.65,393.4 L412.80,395.9 L412.95,394.1 L413.10,393.4 L413.25,393.6 L413.40,393.6 L413.55,394.7 L413.70,394.3 L413.85,390.1 L414.01,393.6 L414.16,392.6 L414.31,393.5 L414.47,392.2 L414.62,393.0 L414.77,392.6 L414.93,391.3 L415.08,393.2 L415.23,391.8 L415.39,393.7 L415.54,391.1 L415.69,391.3 L415.85,391.0 L416.00,391.3 L416.15,390.8 L416.31,391.9 L416.46,388.8 L416.61,390.1 L416.77,391.2 L416.92,389.1 L417.07,389.5 L417.23,389.4 L417.38,388.5 L417.53,390.1 L417.69,387.4 L417.84,390.0 L417.99,387.4 L418.15,388.3 L418.30,387.2 L418.45,387.0 L418.61,387.8 L418.76,386.5 L418.92,387.6 L419.07,387.2 L419.23,387.4 L419.38,385.6 L419.53,386.5 L419.69,386.2 L419.84,385.8 L420.00,385.5 L420.15,386.7 L420.30,386.1 L420.46,384.3 L420.61,384.5 L420.77,386.8 L420.92,384.3 L421.07,384.7 L421.23,384.4 L421.38,384.8 L421.54,385.4 L421.69,385.3 L421.85,384.1 L422.00,384.4 L422.15,384.0 L422.31,381.7 L422.46,383.9 L422.61,383.4 L422.77,380.9 L422.92,382.1 L423.07,381.3 L423.23,379.7 L423.38,379.7 L423.53,381.2 L423.69,377.6 L423.84,379.0 L423.99,378.8 L424.15,378.5 L424.30,377.8 L424.45,376.9 L424.61,379.4 L424.76,373.3 L424.91,375.1 L425.07,374.4 L425.22,370.9 L425.37,372.7 L425.53,371.7 L425.68,370.8 L425.83,367.0 L425.99,369.5 L426.14,366.4 L426.29,367.5 L426.45,366.7 L426.60,364.1 L426.76,365.0 L426.91,361.8 L427.07,364.2 L427.23,363.9 L427.39,362.1 L427.54,361.8 L427.70,360.1 L427.86,360.3 L428.01,358.7 L428.17,358.4 L428.33,358.4 L428.49,357.7 L428.64,357.5 L428.80,358.7 L428.95,358.7 L429.10,355.9 L429.25,357.0 L429.40,357.1 L429.55,355.1 L429.70,357.4 L429.85,355.6 L430.00,353.8 L430.15,355.3 L430.30,355.2 L430.45,355.4 L430.60,352.6 L430.75,352.3 L430.90,352.9 L431.05,353.8 L431.20,353.6 L431.35,353.5 L431.50,352.4 L431.65,350.8 L431.80,349.9 L431.95,350.2 L432.11,349.7 L432.26,352.3 L432.41,350.7 L432.57,349.8 L432.72,345.8 L432.87,350.5 L433.03,345.6 L433.18,345.0 L433.33,347.4 L433.49,345.8 L433.64,348.9 L433.79,346.4 L433.95,345.2 L434.10,344.5 L434.26,343.1 L434.42,339.1 L434.58,335.8 L434.74,334.3 L434.90,331.2 L435.07,322.6 L435.25,315.7 L435.43,308.4 L435.60,300.4 L435.76,298.7 L435.92,295.5 L436.08,293.2 L436.24,291.8 L436.40,290.6 L436.56,292.9 L436.71,292.0 L436.87,291.7 L437.03,292.1 L437.19,293.9 L437.34,294.5 L437.50,295.0 L437.70,299.9 L437.90,305.6 L438.05,305.3 L438.20,305.8 L438.35,305.9 L438.50,306.9 L438.65,307.1 L438.80,306.3 L438.95,307.7 L439.10,306.5 L439.25,307.3 L439.40,306.5 L439.56,312.0 L439.72,315.8 L439.88,320.8 L440.04,326.1 L440.20,329.5 L440.35,329.7 L440.50,329.6 L440.65,328.6 L440.80,328.1 L440.95,329.0 L441.10,328.9 L441.25,327.1 L441.40,327.5 L441.55,328.0 L441.70,326.9 L441.85,325.6 L442.00,324.0 L442.15,323.0 L442.30,322.2 L442.45,322.5 L442.60,320.7 L442.75,319.0 L442.90,318.4 L443.05,317.0 L443.20,315.6 L443.38,314.3 L443.55,310.3 L443.72,308.2 L443.90,305.1 L444.06,298.2 L444.22,291.8 L444.38,285.1 L444.54,278.1 L444.70,270.9 L444.85,271.6 L445.00,269.6 L445.15,268.7 L445.30,268.8 L445.45,266.6 L445.60,266.9 L445.78,267.6 L445.96,268.1 L446.14,267.9 L446.32,268.8 L446.50,269.4 L446.68,270.7 L446.86,272.7 L447.04,276.2 L447.22,278.1 L447.40,279.4 L447.55,286.3 L447.70,289.5 L447.85,296.1 L448.00,300.5 L448.17,301.7 L448.34,304.5 L448.51,307.1 L448.69,309.8 L448.86,310.8 L449.03,313.2 L449.20,315.7 L449.37,315.2 L449.54,315.9 L449.71,317.9 L449.89,318.1 L450.06,319.6 L450.23,320.6 L450.40,320.7 L450.55,319.7 L450.70,316.7 L450.85,316.8 L451.00,315.1 L451.15,312.7 L451.30,310.9 L451.45,308.4 L451.60,307.3 L451.75,305.1 L451.90,305.1 L452.05,304.4 L452.20,306.1 L452.35,306.7 L452.50,305.6 L452.65,306.2 L452.80,306.5 L452.95,307.0 L453.10,309.0 L453.25,307.6 L453.40,309.0 L453.55,309.0 L453.70,310.9 L453.85,312.0 L454.00,314.2 L454.15,313.8 L454.30,313.8 L454.45,314.8 L454.60,315.8 L454.75,316.5 L454.90,318.0 L455.05,318.6 L455.20,319.0 L455.36,320.1 L455.52,319.8 L455.68,322.3 L455.83,321.1 L455.99,323.4 L456.15,323.3 L456.31,324.3 L456.47,325.2 L456.62,324.4 L456.78,323.5 L456.94,327.1 L457.10,327.7 L457.25,328.0 L457.40,327.4 L457.55,328.6 L457.70,328.9 L457.85,327.8 L458.00,329.2 L458.15,329.4 L458.30,330.3 L458.45,330.6 L458.60,330.4 L458.80,339.4 L458.95,339.2 L459.10,341.0 L459.25,340.3 L459.40,339.1 L459.55,341.9 L459.70,340.9 L459.85,344.1 L460.00,345.1 L460.15,344.3 L460.30,344.8 L460.46,346.2 L460.61,346.0 L460.77,345.3 L460.93,346.7 L461.09,347.9 L461.24,346.7 L461.40,346.3 L461.56,347.8 L461.71,348.6 L461.87,349.1 L462.03,348.8 L462.19,349.5 L462.34,349.0 L462.50,349.8 L462.65,350.7 L462.81,349.3 L462.96,349.3 L463.11,349.8 L463.27,351.4 L463.42,351.2 L463.57,350.3 L463.73,352.0 L463.88,352.0 L464.03,352.8 L464.19,351.5 L464.34,353.7 L464.49,352.9 L464.65,352.8 L464.80,353.7 L464.95,354.1 L465.11,355.2 L465.26,354.8 L465.41,357.0 L465.57,356.1 L465.72,357.1 L465.87,358.4 L466.03,358.5 L466.18,359.3 L466.33,361.3 L466.49,361.6 L466.64,361.9 L466.79,361.5 L466.95,363.7 L467.10,364.9 L467.26,363.1 L467.41,364.7 L467.57,364.0 L467.73,363.9 L467.89,364.2 L468.04,364.5 L468.20,365.0 L468.36,364.3 L468.51,366.0 L468.67,365.4 L468.83,366.2 L468.99,366.8 L469.14,366.4 L469.30,365.4 L469.45,367.3 L469.60,366.1 L469.75,366.5 L469.90,367.9 L470.05,367.5 L470.20,367.9 L470.35,367.7 L470.50,367.0 L470.65,367.0 L470.80,367.9 L470.95,368.3 L471.10,368.3 L471.26,368.3 L471.41,370.5 L471.56,370.1 L471.71,371.3 L471.86,370.9 L472.02,371.0 L472.17,372.9 L472.32,372.7 L472.47,372.9 L472.62,374.2 L472.78,374.6 L472.93,374.9 L473.08,374.0 L473.23,375.0 L473.38,376.5 L473.54,375.8 L473.69,377.6 L473.84,378.0 L473.99,377.6 L474.14,377.6 L474.30,378.5 L474.45,378.5 L474.60,380.4 L474.75,379.7 L474.90,380.0 L475.05,380.0 L475.20,381.7 L475.35,380.7 L475.50,381.5 L475.65,381.3 L475.80,380.7 L475.95,381.9 L476.10,382.8 L476.25,383.0 L476.40,384.3 L476.55,383.8 L476.70,384.8 L476.85,383.4 L477.00,385.4 L477.15,385.4 L477.30,385.5 L477.45,385.8 L477.60,386.3 L477.75,386.5 L477.91,384.5 L478.06,386.0 L478.21,387.9 L478.37,388.1 L478.52,388.2 L478.67,389.4 L478.83,388.0 L478.98,388.3 L479.13,390.6 L479.29,390.8 L479.44,391.0 L479.59,390.8 L479.75,390.7 L479.90,391.0 L480.05,392.4 L480.20,392.0 L480.36,393.2 L480.51,393.2 L480.66,392.0 L480.81,392.8 L480.96,392.4 L481.12,392.6 L481.27,394.5 L481.42,394.1 L481.57,394.8 L481.72,393.9 L481.88,395.9 L482.03,392.7 L482.18,396.0 L482.33,396.2 L482.48,395.0 L482.64,395.9 L482.79,396.0 L482.94,396.0 L483.09,396.3 L483.24,397.3 L483.40,398.3 L483.55,397.5 L483.70,397.7 L483.85,396.5 L484.00,396.6 L484.15,395.4 L484.30,393.3 L484.45,391.5 L484.60,390.2 L484.75,389.3 L484.90,389.1 L485.05,387.0 L485.20,386.2 L485.35,386.1 L485.50,384.6 L485.65,383.0 L485.80,382.9 L485.95,381.4 L486.10,379.8 L486.25,377.7 L486.40,379.8 L486.55,375.8 L486.70,374.2 L486.85,375.4 L487.00,376.6 L487.15,376.9 L487.30,377.8 L487.45,380.3 L487.60,379.8 L487.75,381.7 L487.90,381.4 L488.05,383.5 L488.20,384.9 L488.36,385.6 L488.52,384.8 L488.68,385.7 L488.84,387.1 L488.99,388.4 L489.15,388.9 L489.31,387.6 L489.47,389.7 L489.63,390.6 L489.79,391.2 L489.95,392.1 L490.11,391.8 L490.26,392.0 L490.42,393.4 L490.58,393.2 L490.74,394.7 L490.90,395.3 L491.05,392.7 L491.20,390.8 L491.35,389.9 L491.50,388.9 L491.65,386.1 L491.80,384.6 L491.95,384.1 L492.10,380.9 L492.25,379.6 L492.40,377.9 L492.55,376.4 L492.70,375.2 L492.85,374.0 L493.00,374.0 L493.15,374.4 L493.30,374.2 L493.45,374.1 L493.60,370.5 L493.75,372.8 L493.90,371.6 L494.05,370.4 L494.20,370.9 L494.35,370.4 L494.50,370.6 L494.65,369.9 L494.80,368.8 L494.95,369.6 L495.10,367.3 L495.25,368.4 L495.40,367.5 L495.55,365.0 L495.70,366.3 L495.85,366.6 L496.00,367.0 L496.15,366.9 L496.30,368.3 L496.45,368.7 L496.60,369.3 L496.75,367.9 L496.90,368.3 L497.05,369.4 L497.20,370.7 L497.35,368.6 L497.50,370.7 L497.65,371.3 L497.80,371.0 L497.95,372.7 L498.10,372.5 L498.25,372.3 L498.40,373.2 L498.55,372.3 L498.70,372.2 L498.86,373.8 L499.01,372.7 L499.16,372.5 L499.32,371.5 L499.48,369.9 L499.63,370.7 L499.78,368.0 L499.94,369.4 L500.10,368.5 L500.25,366.9 L500.41,365.5 L500.56,364.9 L500.72,365.2 L500.87,364.0 L501.02,364.3 L501.18,362.0 L501.34,363.2 L501.49,360.6 L501.64,361.2 L501.80,361.2 L501.95,359.2 L502.11,358.8 L502.26,359.4 L502.42,359.4 L502.57,358.5 L502.73,357.0 L502.88,357.1 L503.03,357.8 L503.19,356.1 L503.34,356.0 L503.50,355.3 L503.65,355.7 L503.80,355.3 L503.96,353.1 L504.11,352.6 L504.27,354.2 L504.42,353.1 L504.57,352.6 L504.73,351.9 L504.88,351.5 L505.04,351.0 L505.19,348.5 L505.35,350.4 L505.50,350.2 L505.65,348.7 L505.80,348.7 L505.95,348.3 L506.10,347.1 L506.25,348.7 L506.40,349.0 L506.55,348.9 L506.70,350.1 L506.85,350.4 L507.00,349.3 L507.15,349.4 L507.30,349.0 L507.45,349.0 L507.60,350.2 L507.75,350.7 L507.90,348.9 L508.05,350.6 L508.20,350.2 L508.35,348.8 L508.50,350.0 L508.65,348.5 L508.81,350.2 L508.97,348.5 L509.12,348.4 L509.27,347.7 L509.43,346.1 L509.59,347.4 L509.74,345.5 L509.89,345.6 L510.05,346.2 L510.21,344.9 L510.36,341.9 L510.51,343.2 L510.67,343.5 L510.83,343.0 L510.98,341.8 L511.13,341.9 L511.29,340.9 L511.45,342.2 L511.60,341.7 L511.76,341.7 L511.91,341.6 L512.07,342.8 L512.23,343.9 L512.39,342.3 L512.54,343.0 L512.70,343.9 L512.86,343.4 L513.01,345.7 L513.17,346.1 L513.33,345.1 L513.49,345.6 L513.64,347.1 L513.80,347.5 L513.95,347.0 L514.11,345.7 L514.26,345.9 L514.41,344.9 L514.57,345.2 L514.72,344.5 L514.87,344.9 L515.03,343.8 L515.18,343.7 L515.33,341.9 L515.49,343.4 L515.64,340.6 L515.79,341.5 L515.95,340.2 L516.10,340.2 L516.26,340.2 L516.41,340.7 L516.57,339.8 L516.73,341.1 L516.89,340.7 L517.04,340.6 L517.20,341.1 L517.36,342.1 L517.51,342.2 L517.67,341.8 L517.83,340.1 L517.99,341.5 L518.14,340.6 L518.30,340.9 L518.45,341.0 L518.61,340.4 L518.76,341.2 L518.91,339.7 L519.07,339.8 L519.22,340.2 L519.37,339.4 L519.53,339.3 L519.68,338.2 L519.83,337.1 L519.99,337.5 L520.14,337.9 L520.29,336.5 L520.45,336.6 L520.60,336.5 L520.75,335.5 L520.90,332.5 L521.05,334.8 L521.20,333.3 L521.35,333.9 L521.50,331.9 L521.65,332.9 L521.80,331.2 L521.95,329.9 L522.10,329.4 L522.26,329.4 L522.42,328.1 L522.59,328.6 L522.75,327.4 L522.91,329.5 L523.08,326.3 L523.24,326.3 L523.40,327.2 L523.55,325.1 L523.70,325.5 L523.85,324.6 L524.00,324.8 L524.15,323.9 L524.30,323.3 L524.45,321.4 L524.60,320.9 L524.75,321.0 L524.90,319.0 L525.08,318.5 L525.25,319.4 L525.42,317.3 L525.60,318.4 L525.75,314.8 L525.90,315.8 L526.05,314.9 L526.20,315.5 L526.35,313.8 L526.50,313.7 L526.65,315.0 L526.80,314.9 L526.95,312.1 L527.10,313.2 L527.26,304.3 L527.42,293.6 L527.58,281.1 L527.74,273.1 L527.90,262.1 L528.07,247.8 L528.23,231.2 L528.40,216.6 L528.57,216.9 L528.73,218.0 L528.90,218.4 L529.07,218.8 L529.23,217.8 L529.40,216.6 L529.57,224.4 L529.73,232.0 L529.90,238.5 L530.07,240.4 L530.23,241.4 L530.40,243.2 L530.57,243.6 L530.73,244.6 L530.90,247.0 L531.06,249.0 L531.21,250.8 L531.37,253.0 L531.53,256.4 L531.69,258.1 L531.84,260.2 L532.00,261.6 L532.15,264.5 L532.30,267.6 L532.45,269.4 L532.60,272.6 L532.75,275.4 L532.90,276.3 L533.05,279.8 L533.20,282.9 L533.35,280.5 L533.50,278.2 L533.65,276.4 L533.80,273.8 L533.95,271.5 L534.10,269.3 L534.25,266.7 L534.40,264.6 L534.55,262.7 L534.70,260.0 L534.88,251.7 L535.05,242.5 L535.23,234.1 L535.40,224.9 L535.56,214.2 L535.71,202.5 L535.87,191.9 L536.03,180.4 L536.19,169.5 L536.34,158.2 L536.50,147.3 L536.67,126.6 L536.83,106.4 L537.00,85.5 L537.15,85.1 L537.30,84.3 L537.45,84.1 L537.60,82.7 L537.75,82.1 L537.90,80.9 L538.05,80.5 L538.20,79.6 L538.35,78.9 L538.50,78.0 L538.67,84.5 L538.85,91.1 L539.03,97.9 L539.20,104.5 L539.50,161.6 L539.65,165.7 L539.80,168.4 L539.95,172.0 L540.10,175.5 L540.25,178.5 L540.40,182.5 L540.55,186.2 L540.70,189.5 L540.86,195.8 L541.02,202.7 L541.18,208.9 L541.34,215.6 L541.50,221.8 L541.65,222.9 L541.80,223.2 L541.95,224.0 L542.10,225.0 L542.25,225.8 L542.40,226.8 L542.55,227.5 L542.70,227.8 L542.87,222.3 L543.03,217.0 L543.20,210.3 L543.37,205.2 L543.53,199.4 L543.70,193.5 L543.86,187.3 L544.02,181.4 L544.18,175.2 L544.34,169.4 L544.50,162.8 L544.67,161.5 L544.83,159.7 L545.00,158.6 L545.17,157.0 L545.33,155.2 L545.50,154.0 L545.67,155.3 L545.83,155.4 L546.00,156.2 L546.17,157.3 L546.33,159.2 L546.50,158.9 L546.65,167.5 L546.80,174.8 L546.95,182.5 L547.10,189.8 L547.27,190.9 L547.44,194.1 L547.61,195.6 L547.79,197.0 L547.96,198.7 L548.13,200.1 L548.30,202.0 L548.47,207.1 L548.65,212.3 L548.83,216.0 L549.00,220.8 L549.16,223.5 L549.32,227.5 L549.48,230.4 L549.64,233.0 L549.80,236.1 L549.95,234.7 L550.10,233.9 L550.25,233.1 L550.40,231.9 L550.55,231.4 L550.70,229.5 L550.85,229.6 L551.00,228.3 L551.15,228.7 L551.30,225.4 L551.45,227.1 L551.60,227.7 L551.75,227.6 L551.90,229.3 L552.05,228.0 L552.20,229.3 L552.35,228.6 L552.50,229.4 L552.80,248.2 L552.95,248.7 L553.10,248.6 L553.25,249.7 L553.40,249.6 L553.55,250.6 L553.70,250.7 L553.85,251.8 L554.00,252.9 L554.15,251.5 L554.30,252.1 L554.47,255.5 L554.65,258.9 L554.83,262.2 L555.00,265.3 L555.16,264.7 L555.32,264.4 L555.48,263.6 L555.64,263.1 L555.80,262.0 L555.96,262.1 L556.12,262.0 L556.28,261.5 L556.44,260.4 L556.60,261.5 L556.75,260.0 L556.90,257.8 L557.05,256.7 L557.20,256.9 L557.35,256.8 L557.50,255.0 L557.65,254.8 L557.80,252.9 L557.95,253.0 L558.10,252.5 L558.27,254.4 L558.43,255.6 L558.60,257.4 L558.77,260.2 L558.93,261.3 L559.10,263.9 L559.27,265.7 L559.44,266.7 L559.61,269.8 L559.79,271.4 L559.96,273.4 L560.13,275.2 L560.30,276.5 L560.45,280.2 L560.60,280.0 L560.75,281.6 L560.90,284.1 L561.05,286.1 L561.20,287.5 L561.35,290.3 L561.50,290.1 L561.65,293.5 L561.80,294.6 L561.95,295.4 L562.10,294.8 L562.25,293.1 L562.40,293.3 L562.55,292.3 L562.70,292.7 L562.85,290.8 L563.00,291.4 L563.15,291.2 L563.30,290.8 L563.46,291.8 L563.62,292.3 L563.78,291.2 L563.94,292.0 L564.10,293.7 L564.26,294.9 L564.42,295.2 L564.58,296.3 L564.74,294.8 L564.90,297.1 L565.06,298.5 L565.21,299.8 L565.37,301.9 L565.52,301.6 L565.68,304.3 L565.83,306.6 L565.99,307.6 L566.14,309.4 L566.30,311.5 L566.45,311.5 L566.60,314.1 L566.75,314.5 L566.90,318.0 L567.05,317.7 L567.20,319.9 L567.35,321.4 L567.50,324.5 L567.65,325.1 L567.81,324.3 L567.97,325.9 L568.12,323.6 L568.27,326.2 L568.43,326.1 L568.59,324.3 L568.74,324.2 L568.89,325.6 L569.05,327.2 L569.21,326.7 L569.36,327.3 L569.51,329.0 L569.67,326.8 L569.83,328.4 L569.98,327.4 L570.13,327.2 L570.29,327.0 L570.45,326.8 L570.60,327.2 L570.75,329.1 L570.90,328.1 L571.05,330.2 L571.20,330.0 L571.35,331.3 L571.50,330.9 L571.65,331.5 L571.80,331.2 L571.95,332.3 L572.10,333.4 L572.26,335.4 L572.41,333.4 L572.57,330.7 L572.73,334.3 L572.89,335.5 L573.04,333.0 L573.20,334.8 L573.36,335.0 L573.51,334.8 L573.67,335.5 L573.83,336.5 L573.99,335.1 L574.14,335.4 L574.30,336.9 L574.45,336.0 L574.60,338.9 L574.75,340.3 L574.90,341.7 L575.05,341.3 L575.20,341.6 L575.35,345.1 L575.50,344.9 L575.65,344.3 L575.80,345.4 L575.95,345.8 L576.11,346.4 L576.26,349.1 L576.41,348.9 L576.57,349.1 L576.72,349.7 L576.87,349.2 L577.03,348.5 L577.18,350.7 L577.33,349.2 L577.49,352.5 L577.64,353.1 L577.79,350.2 L577.95,354.0 L578.10,354.3 L578.25,352.8 L578.40,352.4 L578.55,352.8 L578.70,353.1 L578.85,351.9 L579.00,351.3 L579.15,355.8 L579.30,353.8 L579.45,355.7 L579.60,356.0 L579.75,357.5 L579.90,357.2 L580.05,358.3 L580.20,355.9 L580.35,357.6 L580.50,356.7 L580.65,359.3 L580.80,357.8 L580.95,359.2 L581.10,360.2 L581.25,360.0 L581.40,360.7 L581.55,360.9 L581.70,363.5 L581.85,362.2 L582.00,365.3 L582.15,366.5 L582.30,364.8 L582.45,366.7 L582.60,367.3 L582.75,369.0 L582.91,367.3 L583.06,369.3 L583.21,371.0 L583.37,368.9 L583.52,371.5 L583.67,369.3 L583.83,367.8 L583.98,371.6 L584.13,368.7 L584.29,373.2 L584.44,371.5 L584.59,372.4 L584.75,374.8 L584.90,375.5 L585.05,375.4 L585.20,373.7 L585.35,374.4 L585.50,374.4 L585.65,376.1 L585.80,376.0 L585.95,377.3 L586.10,376.6 L586.25,376.2 L586.40,377.6 L586.55,377.5 L586.70,377.2 L586.85,378.8 L587.00,378.8 L587.15,376.7 L587.30,377.3 L587.45,377.9 L587.60,378.8 L587.75,378.9 L587.90,380.6 L588.05,379.6 L588.20,377.8 L588.35,378.7 L588.50,377.7 L588.65,375.4 L588.80,376.2 L588.95,376.9 L589.10,375.8 L589.25,375.2 L589.40,373.1 L589.55,375.2 L589.70,372.1 L589.85,374.1 L590.00,375.5 L590.15,374.2 L590.30,376.3 L590.45,376.6 L590.60,375.9 L590.75,377.1 L590.90,376.6 L591.05,378.5 L591.20,377.4 L591.35,379.6 L591.50,378.6 L591.65,379.4 L591.80,381.2 L591.95,379.3 L592.10,379.3 L592.25,381.6 L592.40,382.7 L592.55,380.3 L592.70,381.4 L592.85,379.4 L593.00,379.3 L593.15,379.7 L593.30,378.5 L593.45,376.7 L593.60,378.6 L593.75,378.2 L593.90,376.9 L594.05,376.9 L594.20,377.1 L594.35,378.2 L594.50,378.2 L594.65,376.7 L594.80,376.8 L594.95,377.5 L595.10,377.0 L595.25,377.0 L595.40,375.1 L595.55,376.2 L595.71,376.7 L595.86,374.6 L596.01,374.8 L596.17,374.2 L596.32,376.3 L596.47,377.7 L596.63,376.2 L596.78,375.9 L596.93,377.0 L597.09,377.8 L597.24,378.3 L597.39,377.3 L597.55,376.7 L597.70,378.1 L597.86,377.5 L598.02,379.9 L598.18,379.0 L598.34,382.3 L598.49,381.8 L598.65,382.4 L598.81,381.9 L598.97,381.5 L599.13,380.7 L599.29,381.2 L599.45,383.4 L599.61,380.7 L599.76,382.9 L599.92,384.0 L600.08,384.2 L600.24,384.0 L600.40,383.9 L600.56,383.3 L600.71,380.9 L600.87,377.5 L601.03,376.8 L601.19,371.6 L601.34,371.5 L601.50,366.5 L601.65,367.9 L601.80,364.3 L601.95,364.4 L602.10,361.7 L602.25,361.0 L602.40,360.7 L602.55,360.5 L602.70,358.4 L602.85,357.3 L603.00,356.4 L603.16,355.3 L603.31,354.2 L603.47,355.6 L603.63,355.7 L603.79,355.7 L603.94,355.3 L604.10,354.7 L604.26,353.5 L604.41,354.2 L604.57,353.9 L604.73,352.5 L604.89,350.9 L605.04,349.3 L605.20,350.5 L605.36,351.4 L605.52,352.0 L605.68,355.1 L605.84,353.7 L606.00,354.6 L606.16,354.9 L606.32,357.3 L606.48,357.5 L606.64,357.0 L606.80,357.3 L606.95,357.2 L607.10,357.9 L607.25,355.8 L607.40,354.9 L607.55,354.2 L607.70,353.8 L607.85,352.6 L608.00,349.5 L608.15,348.4 L608.30,346.8 L608.45,348.3 L608.60,345.5 L608.75,347.6 L608.90,344.7 L609.05,343.9 L609.20,343.1 L609.35,344.9 L609.50,344.3 L609.65,343.0 L609.80,342.9 L609.95,342.2 L610.10,343.2 L610.25,343.5 L610.40,341.4 L610.55,342.6 L610.70,342.0 L610.85,344.3 L611.00,342.6 L611.15,341.7 L611.30,343.2 L611.45,342.9 L611.60,342.2 L611.75,343.5 L611.90,343.5 L612.05,343.8 L612.20,344.6 L612.35,345.8 L612.50,343.6 L612.65,345.9 L612.80,344.8 L612.95,347.1 L613.10,349.1 L613.25,347.6 L613.40,348.5 L613.55,349.8 L613.70,353.1 L613.85,352.9 L614.00,355.6 L614.15,354.9 L614.30,357.7 L614.45,358.0 L614.60,357.3 L614.75,359.4 L614.91,358.4 L615.06,357.1 L615.22,357.5 L615.37,355.6 L615.52,354.9 L615.68,355.4 L615.83,354.4 L615.98,351.8 L616.14,352.9 L616.29,352.5 L616.45,349.4 L616.60,349.8 L616.76,350.7 L616.91,349.1 L617.07,348.0 L617.23,349.2 L617.39,348.5 L617.54,347.3 L617.70,349.2 L617.86,350.4 L618.01,349.8 L618.17,348.3 L618.33,348.2 L618.49,348.1 L618.64,347.5 L618.80,349.1 L618.95,347.7 L619.10,350.3 L619.25,348.7 L619.40,349.8 L619.55,353.5 L619.70,352.1 L619.85,354.9 L620.00,353.3 L620.15,357.7 L620.30,358.2 L620.45,355.4 L620.61,355.1 L620.76,354.2 L620.91,351.1 L621.07,351.0 L621.22,348.3 L621.37,348.7 L621.53,347.4 L621.68,344.3 L621.83,344.0 L621.99,343.6 L622.14,343.8 L622.29,339.9 L622.45,340.0 L622.60,339.6 L622.75,338.7 L622.91,340.6 L623.06,339.9 L623.21,342.8 L623.37,346.6 L623.52,345.4 L623.67,344.1 L623.83,345.6 L623.98,345.7 L624.13,348.6 L624.29,350.6 L624.44,350.3 L624.59,349.8 L624.75,352.1 L624.90,354.0 L625.05,350.6 L625.20,351.4 L625.35,351.8 L625.50,350.4 L625.65,348.4 L625.80,349.8 L625.95,347.9 L626.10,345.2 L626.25,347.1 L626.40,345.6 L626.55,346.3 L626.70,343.6 L626.85,344.7 L627.00,342.7 L627.15,344.3 L627.30,343.1 L627.45,341.7 L627.60,341.2 L627.75,342.0 L627.90,340.2 L628.05,342.5 L628.20,341.6 L628.35,339.0 L628.50,339.8 L628.65,338.6 L628.80,338.2 L628.95,335.7 L629.10,339.3 L629.25,335.4 L629.40,338.0 L629.56,338.0 L629.71,335.7 L629.87,338.0 L630.03,335.7 L630.19,334.6 L630.34,336.2 L630.50,336.1 L630.66,333.6 L630.81,334.8 L630.97,333.7 L631.13,332.4 L631.29,332.2 L631.44,333.4 L631.60,333.0 L631.75,332.6 L631.91,332.2 L632.06,330.7 L632.21,330.3 L632.37,331.9 L632.52,331.4 L632.67,330.9 L632.83,330.4 L632.98,330.2 L633.13,330.0 L633.29,327.1 L633.44,328.2 L633.59,329.4 L633.75,328.4 L633.90,328.8 L634.06,327.1 L634.22,324.1 L634.38,322.8 L634.54,320.7 L634.70,318.4 L634.88,314.7 L635.05,309.7 L635.23,304.9 L635.40,300.8 L635.60,245.3 L635.77,245.0 L635.94,244.1 L636.11,244.0 L636.29,243.3 L636.46,242.9 L636.63,242.7 L636.80,242.1 L636.50,102.0 L636.67,92.6 L636.83,83.4 L637.00,74.4 L637.17,65.1 L637.33,55.7 L637.50,46.3 L637.66,47.8 L637.82,48.7 L637.98,50.4 L638.14,51.9 L638.30,52.9 L638.45,94.3 L638.60,135.8 L638.77,141.8 L638.94,148.0 L639.11,153.8 L639.29,160.2 L639.46,166.1 L639.63,172.3 L639.80,178.5 L639.95,183.2 L640.10,187.6 L640.25,192.7 L640.40,197.0 L640.55,201.7 L640.70,206.3 L640.85,210.9 L641.00,216.0 L641.17,225.1 L641.35,234.9 L641.53,244.8 L641.70,254.3 L641.88,257.1 L642.05,260.6 L642.23,263.6 L642.40,266.3 L642.56,263.8 L642.72,260.9 L642.88,257.8 L643.04,255.3 L643.20,253.0 L643.50,179.6 L643.66,173.5 L643.81,166.5 L643.97,160.0 L644.13,153.7 L644.29,146.3 L644.44,139.5 L644.60,132.7 L644.78,131.5 L644.96,129.7 L645.14,128.6 L645.32,127.6 L645.50,127.5 L645.65,129.7 L645.80,134.0 L645.95,135.1 L646.10,139.0 L646.28,144.0 L646.46,148.1 L646.64,152.6 L646.82,157.7 L647.00,162.4 L647.16,169.2 L647.32,177.3 L647.48,185.2 L647.64,192.2 L647.80,200.5 L647.97,206.0 L648.15,213.0 L648.33,218.9 L648.50,224.6 L648.67,226.0 L648.85,228.9 L649.03,229.5 L649.20,231.2 L649.36,234.6 L649.52,238.8 L649.68,240.6 L649.84,244.9 L650.00,247.8 L650.17,247.0 L650.35,245.5 L650.53,244.4 L650.70,242.6 L650.86,238.3 L651.02,233.5 L651.18,230.1 L651.34,224.8 L651.50,220.7 L651.65,221.5 L651.80,220.3 L651.95,219.8 L652.10,220.4 L652.25,219.1 L652.40,219.2 L652.55,219.3 L652.70,219.3 L652.85,220.0 L653.00,217.5 L653.17,220.0 L653.35,221.5 L653.53,223.1 L653.70,223.5 L653.87,228.2 L654.04,230.3 L654.21,233.6 L654.39,237.3 L654.56,241.9 L654.73,245.8 L654.90,248.7 L655.06,249.8 L655.21,251.8 L655.37,252.8 L655.53,254.9 L655.69,256.8 L655.84,257.8 L656.00,260.4 L656.15,258.5 L656.30,255.7 L656.45,255.0 L656.60,252.3 L656.75,251.7 L656.90,249.0 L657.05,246.8 L657.20,245.2 L657.35,243.4 L657.50,240.9 L657.66,239.6 L657.81,237.2 L657.97,234.3 L658.13,231.8 L658.29,230.7 L658.44,230.2 L658.60,226.7 L658.77,229.0 L658.94,230.7 L659.11,232.9 L659.29,234.8 L659.46,237.3 L659.63,239.4 L659.80,240.9 L659.95,242.3 L660.10,243.6 L660.25,246.5 L660.40,247.4 L660.55,249.6 L660.70,252.0 L660.85,253.1 L661.00,255.6 L661.15,255.9 L661.30,258.2 L661.45,258.2 L661.60,259.4 L661.75,261.3 L661.90,260.6 L662.05,261.2 L662.20,260.1 L662.35,261.6 L662.50,261.7 L662.67,266.3 L662.83,270.6 L663.00,272.9 L663.17,278.7 L663.33,282.3 L663.50,285.0 L663.66,283.2 L663.82,283.5 L663.98,281.5 L664.14,278.2 L664.30,277.9 L664.46,276.3 L664.62,274.6 L664.78,273.2 L664.94,271.3 L665.10,268.8 L665.26,269.0 L665.42,268.8 L665.58,271.0 L665.73,271.2 L665.89,270.8 L666.05,270.4 L666.21,272.1 L666.37,270.7 L666.52,272.6 L666.68,272.1 L666.84,271.9 L667.00,272.9 L667.16,274.1 L667.33,276.2 L667.49,276.5 L667.65,280.1 L667.82,280.6 L667.98,284.0 L668.15,284.2 L668.31,285.8 L668.47,289.2 L668.64,290.4 L668.80,292.9 L668.97,293.7 L669.13,295.3 L669.30,296.9 L669.47,300.0 L669.63,298.0 L669.80,300.8 L669.95,301.6 L670.10,300.7 L670.25,301.4 L670.40,303.6 L670.55,303.8 L670.70,305.1 L670.85,305.1 L671.00,306.1 L671.15,306.6 L671.30,308.1 L671.46,308.7 L671.62,312.8 L671.78,315.6 L671.94,318.2 L672.10,320.4 L672.25,319.1 L672.40,317.6 L672.55,316.0 L672.70,317.0 L672.85,314.8 L673.00,314.7 L673.15,313.9 L673.30,312.0 L673.45,310.0 L673.60,309.3 L673.76,310.0 L673.91,308.3 L674.07,307.4 L674.23,310.3 L674.39,306.7 L674.54,306.4 L674.70,304.6 L674.86,304.1 L675.01,303.6 L675.17,305.5 L675.33,303.7 L675.49,304.5 L675.64,302.7 L675.80,303.4 L675.95,304.0 L676.10,304.8 L676.25,305.6 L676.40,303.0 L676.55,307.6 L676.70,308.4 L676.85,308.5 L677.00,309.3 L677.15,309.9 L677.30,310.0 L677.46,311.5 L677.62,312.6 L677.78,314.5 L677.94,315.1 L678.10,319.9 L678.26,318.1 L678.42,320.2 L678.58,321.2 L678.74,322.1 L678.90,322.4 L679.06,324.0 L679.21,323.3 L679.37,324.9 L679.53,325.7 L679.69,324.8 L679.84,324.4 L680.00,326.0 L680.16,326.7 L680.31,325.7 L680.47,327.8 L680.63,328.0 L680.79,329.9 L680.94,327.5 L681.10,327.7 L681.25,330.9 L681.41,329.0 L681.56,329.4 L681.71,331.7 L681.87,331.0 L682.02,331.9 L682.17,331.3 L682.33,333.1 L682.48,331.4 L682.63,334.6 L682.79,333.2 L682.94,333.3 L683.09,335.8 L683.25,333.0 L683.40,333.4 L683.58,337.3 L683.75,336.4 L683.92,339.3 L684.10,340.5 L684.25,342.2 L684.41,342.1 L684.56,339.9 L684.71,342.4 L684.87,343.6 L685.02,345.9 L685.17,344.8 L685.33,343.2 L685.48,346.0 L685.63,346.2 L685.79,345.7 L685.94,347.9 L686.09,349.2 L686.25,348.8 L686.40,346.9 L686.55,348.0 L686.70,347.8 L686.86,348.4 L687.01,346.9 L687.16,350.6 L687.31,346.6 L687.46,351.2 L687.62,346.8 L687.77,346.7 L687.92,347.8 L688.07,344.2 L688.22,347.9 L688.38,345.1 L688.53,346.7 L688.68,347.6 L688.83,345.3 L688.98,345.8 L689.14,342.9 L689.29,342.1 L689.44,346.8 L689.59,344.1 L689.74,345.8 L689.90,341.6 L690.05,341.3 L690.20,342.7 L690.36,345.1 L690.51,342.2 L690.67,347.8 L690.83,343.8 L690.99,346.3 L691.14,349.4 L691.30,345.8 L691.46,351.0 L691.61,350.5 L691.77,348.3 L691.93,347.5 L692.09,349.6 L692.24,350.5 L692.40,349.4 L692.55,349.4 L692.70,350.0 L692.85,349.6 L693.00,352.4 L693.15,348.6 L693.30,350.8 L693.45,350.9 L693.60,351.4 L693.75,352.1 L693.90,352.5 L694.05,352.1 L694.20,358.5 L694.35,351.8 L694.50,356.0 L694.65,355.3 L694.80,354.2 L694.95,357.5 L695.10,357.3 L695.25,357.5 L695.40,356.0 L695.55,355.2 L695.71,361.1 L695.87,362.1 L696.02,351.2 L696.17,358.6 L696.33,354.9 L696.49,355.8 L696.64,355.6 L696.79,355.1 L696.95,355.3 L697.11,359.0 L697.26,358.9 L697.41,359.0 L697.57,357.6 L697.73,356.9 L697.88,356.4 L698.03,358.1 L698.19,358.4 L698.35,359.5 L698.50,357.9 L698.66,359.6 L698.81,356.3 L698.97,362.9 L699.13,353.8 L699.29,359.7 L699.44,356.7 L699.60,355.4 L699.76,356.9 L699.91,357.4 L700.07,353.8 L700.23,358.2 L700.39,353.0 L700.54,355.6 L700.70,353.4 L700.85,353.8 L701.00,352.8 L701.15,355.1 L701.30,357.9 L701.45,353.8 L701.60,357.0 L701.75,356.8 L701.90,355.4 L702.05,354.7 L702.20,358.5 L702.35,355.0 L702.50,359.4 L702.65,358.2 L702.80,356.9 L702.95,360.1 L703.10,357.4 L703.25,356.5 L703.40,357.9 L703.55,359.1 L703.70,359.7 L703.86,361.2 L704.01,359.7 L704.17,358.4 L704.32,356.3 L704.48,354.5 L704.63,354.5 L704.78,358.4 L704.94,353.8 L705.10,354.3 L705.25,352.5 L705.40,349.9 L705.56,354.5 L705.72,350.1 L705.87,352.0 L706.02,352.7 L706.18,349.5 L706.33,351.5 L706.49,349.3 L706.64,350.8 L706.80,347.6 L706.95,346.8 L707.10,350.6 L707.25,346.8 L707.40,348.6 L707.55,347.2 L707.70,348.0 L707.85,347.5 L708.00,351.9 L708.15,347.1 L708.30,352.9 L708.45,352.5 L708.60,350.7 L708.75,351.7 L708.90,350.1 L709.05,349.8 L709.20,351.4 L709.35,350.7 L709.50,354.0 L709.65,349.9 L709.80,350.7 L709.96,353.2 L710.11,354.5 L710.27,351.1 L710.43,354.9 L710.59,351.6 L710.74,356.1 L710.90,352.4 L711.06,354.1 L711.21,354.8 L711.37,354.6 L711.53,356.1 L711.69,357.3 L711.84,358.3 L712.00,357.7 L712.15,356.4 L712.30,354.9 L712.45,356.5 L712.60,351.9 L712.75,355.0 L712.90,351.8 L713.05,352.5 L713.20,351.1 L713.35,348.9 L713.50,350.6 L713.65,346.4 L713.81,344.7 L713.97,351.2 L714.12,349.6 L714.27,349.8 L714.43,351.3 L714.59,348.1 L714.74,351.4 L714.89,350.6 L715.05,352.3 L715.21,353.3 L715.36,352.4 L715.51,349.3 L715.67,352.8 L715.83,355.2 L715.98,353.4 L716.13,351.6 L716.29,351.1 L716.45,355.0 L716.60,355.4 L716.75,351.2 L716.91,351.8 L717.06,352.2 L717.22,355.8 L717.37,353.2 L717.52,355.7 L717.68,353.7 L717.83,354.3 L717.99,358.0 L718.14,354.8 L718.30,357.3 L718.45,357.2 L718.60,354.5 L718.76,356.1 L718.91,359.3 L719.07,358.7 L719.22,359.3 L719.38,357.5 L719.53,354.8 L719.68,356.0 L719.84,356.1 L719.99,360.1 L720.15,361.4 L720.30,361.2 L720.45,358.5 L720.60,355.4 L720.75,355.7 L720.90,354.4 L721.05,349.6 L721.20,350.4 L721.35,349.5 L721.50,352.2 L721.65,348.0 L721.80,345.2 L721.95,347.0 L722.11,348.9 L722.26,348.7 L722.42,348.2 L722.57,347.8 L722.73,343.6 L722.88,349.3 L723.04,342.7 L723.19,342.7 L723.35,341.1 L723.50,344.3 L723.66,340.2 L723.81,342.7 L723.97,343.6 L724.12,339.9 L724.28,341.2 L724.43,341.5 L724.59,340.8 L724.75,339.3 L724.90,340.9 L725.05,338.8 L725.20,340.9 L725.35,341.3 L725.50,343.4 L725.65,344.9 L725.80,345.7 L725.95,341.9 L726.10,346.4 L726.25,344.0 L726.40,348.7 L726.55,344.7 L726.70,346.9 L726.85,346.2 L727.00,349.8 L727.15,349.5 L727.30,351.0 L727.45,348.9 L727.60,352.1 L727.75,350.2 L727.90,352.8 L728.05,349.5 L728.20,350.9 L728.35,350.4 L728.50,348.7 L728.65,350.9 L728.80,349.2 L728.95,346.7 L729.10,347.9 L729.25,347.9 L729.40,346.0 L729.55,343.9 L729.70,347.4 L729.85,345.6 L730.00,344.3 L730.15,340.4 L730.30,340.8 L730.45,343.8 L730.60,342.0 L730.75,343.0 L730.90,343.7 L731.05,341.8 L731.20,337.1 L731.35,338.6 L731.50,336.9 L731.65,333.8 L731.80,336.6 L731.95,339.0 L732.10,342.4 L732.25,334.5 L732.40,337.1 L732.55,336.3 L732.70,338.4 L732.85,336.8 L733.00,332.9 L733.15,335.0 L733.30,336.3 L733.45,335.5 L733.60,334.5 L733.75,339.0 L733.90,334.1 L734.05,332.8 L734.20,334.1 L734.35,332.8 L734.50,332.6 L734.65,333.8 L734.80,334.3 L734.95,327.3 L735.10,333.7 L735.25,332.2 L735.40,337.7 L735.55,332.3 L735.70,332.2 L735.85,331.5 L736.00,330.1 L736.15,330.0 L736.30,332.0 L736.45,334.3 L736.60,332.1 L736.75,332.5 L736.90,334.1 L737.05,332.3 L737.21,332.7 L737.36,334.6 L737.51,334.2 L737.67,333.1 L737.82,333.3 L737.97,333.5 L738.13,337.6 L738.28,336.2 L738.43,335.3 L738.59,337.1 L738.74,337.0 L738.89,340.1 L739.05,336.9 L739.20,338.9 L739.35,341.1 L739.50,337.7 L739.66,340.0 L739.81,341.1 L739.96,340.4 L740.11,339.5 L740.26,337.7 L740.42,339.0 L740.57,336.0 L740.72,337.7 L740.87,338.0 L741.02,341.3 L741.18,334.0 L741.33,338.0 L741.48,333.0 L741.63,336.5 L741.78,335.4 L741.94,334.8 L742.09,334.6 L742.24,331.8 L742.39,333.0 L742.54,333.0 L742.70,335.1 L742.85,334.2 L743.00,334.4 L743.17,328.4 L743.35,328.6 L743.53,327.7 L743.70,328.1 L743.85,327.8 L744.00,323.9 L744.15,328.0 L744.30,324.3 L744.45,325.4 L744.60,327.9 L744.75,332.2 L744.90,326.6 L745.05,329.4 L745.20,328.5 L745.35,329.6 L745.50,327.9 L745.65,329.2 L745.80,328.7 L745.95,324.7 L746.10,330.4 L746.25,327.4 L746.40,330.9 L746.55,331.2 L746.70,329.9 L746.85,331.5 L747.00,329.3 L747.15,328.4 L747.30,327.2 L747.45,327.1 L747.60,329.5 L747.75,326.6 L747.90,327.1 L748.05,327.4 L748.20,330.6 L748.35,330.6 L748.50,327.0 L748.65,327.0 L748.80,326.4 L748.95,327.8 L749.10,327.8 L749.25,329.9 L749.40,330.0 L749.55,328.2 L749.70,330.7 L749.86,328.5 L750.02,324.6 L750.18,326.8 L750.34,324.8 L750.50,322.3 L750.66,321.6 L750.82,315.5 L750.98,316.9 L751.14,319.9 L751.30,316.7 L751.45,315.8 L751.60,315.0 L751.75,317.8 L751.90,319.7 L752.05,317.8 L752.20,315.4 L752.35,318.1 L752.50,316.5 L752.65,315.7 L752.80,319.2 L752.95,316.1 L753.10,316.2 L753.25,315.8 L753.40,319.3 L753.55,317.3 L753.70,319.4 L753.85,316.8 L754.00,319.2 L754.15,317.1 L754.30,320.1 L754.46,317.4 L754.61,321.7 L754.77,324.5 L754.93,326.7 L755.09,326.8 L755.24,329.5 L755.40,332.0 L755.56,334.3 L755.71,333.9 L755.87,335.8 L756.03,339.9 L756.19,339.5 L756.34,342.8 L756.50,342.0 L756.65,342.4 L756.80,342.3 L756.96,347.3 L757.11,342.4 L757.26,341.3 L757.41,338.5 L757.57,342.1 L757.72,339.1 L757.87,336.3 L758.02,337.8 L758.17,339.9 L758.33,338.2 L758.48,338.1 L758.63,337.1 L758.78,335.5 L758.93,335.0 L759.09,335.0 L759.24,334.8 L759.39,334.6 L759.54,332.2 L759.70,335.1 L759.85,333.3 L760.00,333.8 L760.15,330.8 L760.30,331.0 L760.45,331.0 L760.61,332.2 L760.76,329.0 L760.91,329.7 L761.06,333.8 L761.21,332.5 L761.36,323.6 L761.52,327.7 L761.67,327.3 L761.82,330.1 L761.97,327.0 L762.12,328.3 L762.27,328.0 L762.42,325.7 L762.58,324.7 L762.73,326.3 L762.88,326.1 L763.03,328.1 L763.18,327.0 L763.33,325.0 L763.48,325.7 L763.64,325.7 L763.79,323.8 L763.94,325.0 L764.09,322.3 L764.24,326.8 L764.39,322.6 L764.55,320.6 L764.70,320.6 L764.85,322.1 L765.00,327.0 L765.15,320.8 L765.30,320.0 L765.45,318.7 L765.60,321.4 L765.76,321.2 L765.91,316.6 L766.06,318.8 L766.21,318.2 L766.36,322.0 L766.51,316.7 L766.66,319.9 L766.81,318.5 L766.96,319.8 L767.11,317.5 L767.27,319.9 L767.42,315.5 L767.57,316.3 L767.72,316.3 L767.87,316.7 L768.02,319.2 L768.17,319.2 L768.32,316.1 L768.47,315.5 L768.62,316.8 L768.78,318.0 L768.93,314.5 L769.08,313.4 L769.23,316.6 L769.38,320.0 L769.53,315.8 L769.68,315.3 L769.83,313.2 L769.98,316.2 L770.13,311.6 L770.29,312.5 L770.44,313.0 L770.59,310.4 L770.74,315.0 L770.89,312.5 L771.04,311.8 L771.19,311.3 L771.34,312.1 L771.49,311.5 L771.64,310.5 L771.80,308.7 L771.95,310.7 L772.10,311.3 L772.25,309.8 L772.40,310.3 L772.55,308.8 L772.71,310.3 L772.86,311.0 L773.01,306.9 L773.17,309.9 L773.32,309.0 L773.47,308.4 L773.63,302.7 L773.78,310.1 L773.93,308.1 L774.09,305.5 L774.24,305.1 L774.39,305.6 L774.55,303.7 L774.70,302.6 L774.85,305.3 L775.00,302.7 L775.16,304.3 L775.31,303.0 L775.46,307.5 L775.61,306.9 L775.76,303.9 L775.92,304.4 L776.07,304.3 L776.22,303.7 L776.37,306.5 L776.52,307.8 L776.68,305.2 L776.83,308.5 L776.98,307.4 L777.13,305.8 L777.28,304.5 L777.44,305.2 L777.59,304.9 L777.74,303.2 L777.89,308.6 L778.04,305.5 L778.20,307.1 L778.35,307.8 L778.50,306.9 L778.65,310.1 L778.81,308.8 L778.96,308.0 L779.12,308.0 L779.27,305.5 L779.42,307.8 L779.58,307.8 L779.73,306.9 L779.89,305.1 L780.04,301.5 L780.20,303.6 L780.35,304.4 L780.50,303.1 L780.66,305.4 L780.81,300.8 L780.97,302.2 L781.12,300.4 L781.28,299.3 L781.43,299.6 L781.58,302.5 L781.74,298.5 L781.89,298.8 L782.05,297.9 L782.20,299.5 L782.35,300.1 L782.51,295.4 L782.66,296.0 L782.81,291.5 L782.97,291.5 L783.12,295.1 L783.27,296.1 L783.43,292.2 L783.58,296.0 L783.73,295.4 L783.89,291.1 L784.04,293.6 L784.19,295.9 L784.35,290.1 L784.50,291.7 L784.65,289.4 L784.80,290.2 L784.95,291.4 L785.10,288.9 L785.25,291.5 L785.40,293.1 L785.55,293.8 L785.70,292.0 L785.85,290.4 L786.00,292.9 L786.15,294.6 L786.30,292.7 L786.45,292.0 L786.60,292.8 L786.75,293.1 L786.90,292.0 L787.05,293.9 L787.20,296.4 L787.35,294.8 L787.50,293.0 L787.65,294.2 L787.80,288.7 L787.95,297.7 L788.10,294.5 L788.25,289.6 L788.40,290.2 L788.55,288.4 L788.70,287.9 L788.85,290.3 L789.00,288.2 L789.15,287.0 L789.30,286.7 L789.45,287.6 L789.60,286.7 L789.75,284.6 L789.90,286.8 L790.05,282.3 L790.20,284.1 L790.35,281.3 L790.50,282.4 L790.65,285.0 L790.80,285.7 L790.95,285.8 L791.10,284.0 L791.25,284.1 L791.40,286.7 L791.55,291.2 L791.70,284.7 L791.85,290.0 L792.00,290.7 L792.15,290.2 L792.30,288.9 L792.45,292.4 L792.60,288.7 L792.75,289.3 L792.90,289.8 L793.05,292.5 L793.20,292.2 L793.35,294.7 L793.50,293.2 L793.65,293.7 L793.81,293.1 L793.97,292.8 L794.12,294.2 L794.27,292.9 L794.43,291.9 L794.59,289.2 L794.74,286.6 L794.89,290.5 L795.05,289.2 L795.21,286.7 L795.36,287.9 L795.51,283.5 L795.67,286.7 L795.83,286.0 L795.98,283.3 L796.13,282.3 L796.29,284.7 L796.45,281.5 L796.60,278.6 L796.75,278.8 L796.91,278.7 L797.06,282.6 L797.22,279.9 L797.37,282.1 L797.52,279.5 L797.68,278.4 L797.83,280.6 L797.99,281.5 L798.14,281.8 L798.30,280.4 L798.45,281.1 L798.60,281.8 L798.76,279.8 L798.91,276.9 L799.07,280.9 L799.22,280.3 L799.38,279.0 L799.53,280.5 L799.68,279.1 L799.84,276.3 L799.99,279.6 L800.15,277.6 L800.30,277.1 L800.45,278.3 L800.61,278.3 L800.76,277.1 L800.91,275.6 L801.07,275.4 L801.22,272.5 L801.37,276.1 L801.53,270.5 L801.68,275.3 L801.83,273.7 L801.99,272.6 L802.14,272.9 L802.29,269.8 L802.45,272.3 L802.60,272.8 L802.75,271.7 L802.91,273.5 L803.06,273.8 L803.21,269.3 L803.37,269.4 L803.52,272.8 L803.67,271.3 L803.83,275.3 L803.98,274.8 L804.13,271.0 L804.29,273.7 L804.44,274.7 L804.59,275.4 L804.75,274.5 L804.90,276.6 L805.05,276.9 L805.20,271.2 L805.35,273.1 L805.50,272.1 L805.65,275.2 L805.80,269.2 L805.95,271.4 L806.10,268.2 L806.25,266.2 L806.40,267.6 L806.55,266.7 L806.70,270.0 L806.85,265.3 L807.00,265.0 L807.15,267.5 L807.30,259.9 L807.45,262.3 L807.60,266.4 L807.75,261.1 L807.90,267.1 L808.06,260.6 L808.21,261.8 L808.37,258.0 L808.53,261.4 L808.69,258.2 L808.84,255.8 L809.00,255.2 L809.16,253.9 L809.31,252.7 L809.47,252.3 L809.63,253.7 L809.79,251.3 L809.94,253.4 L810.10,248.3 L810.25,252.8 L810.41,252.5 L810.56,251.9 L810.71,249.0 L810.87,252.8 L811.02,251.9 L811.17,253.4 L811.33,254.1 L811.48,252.7 L811.63,257.9 L811.79,257.1 L811.94,254.9 L812.09,256.2 L812.25,256.7 L812.40,259.1 L812.55,254.8 L812.71,258.6 L812.86,252.8 L813.01,252.8 L813.17,253.1 L813.32,253.0 L813.47,249.2 L813.63,251.8 L813.78,249.3 L813.93,246.3 L814.09,247.1 L814.24,247.8 L814.39,241.1 L814.55,242.0 L814.70,241.5 L814.85,242.1 L815.00,243.0 L815.15,244.6 L815.30,245.2 L815.45,242.1 L815.60,244.7 L815.75,243.7 L815.90,243.1 L816.05,244.7 L816.20,241.8 L816.35,241.4 L816.50,244.7 L816.65,241.7 L816.80,246.2 L816.95,245.7 L817.10,243.3 L817.25,244.2 L817.40,243.1 L817.55,244.6 L817.70,246.9 L817.86,244.2 L818.01,240.2 L818.17,241.1 L818.33,242.3 L818.49,237.8 L818.64,239.9 L818.80,235.9 L818.96,237.3 L819.11,234.4 L819.27,234.1 L819.43,232.9 L819.59,233.3 L819.74,232.6 L819.90,232.6 L820.05,229.5 L820.21,231.2 L820.37,232.0 L820.52,229.0 L820.67,230.6 L820.83,229.7 L820.99,233.5 L821.14,236.2 L821.29,230.5 L821.45,230.0 L821.61,228.7 L821.76,230.7 L821.91,233.7 L822.07,231.0 L822.23,230.2 L822.38,229.1 L822.53,231.1 L822.69,232.8 L822.85,233.0 L823.00,231.0 L823.16,230.0 L823.31,231.9 L823.47,229.3 L823.63,231.3 L823.79,233.3 L823.94,229.7 L824.10,231.1 L824.26,229.1 L824.41,237.5 L824.57,234.3 L824.73,236.8 L824.89,232.2 L825.04,232.9 L825.20,230.0 L825.36,232.2 L825.52,229.6 L825.68,233.4 L825.85,232.1 L826.01,227.2 L826.17,226.8 L826.33,221.7 L826.49,226.8 L826.65,226.0 L826.82,223.6 L826.98,224.5 L827.14,223.6 L827.30,220.3 L827.46,217.7 L827.62,220.6 L827.78,217.2 L827.94,214.8 L828.10,214.9 L828.26,219.6 L828.42,213.8 L828.58,218.4 L828.74,213.7 L828.90,212.5 L829.06,213.0 L829.21,210.2 L829.37,209.8 L829.53,211.7 L829.69,212.8 L829.84,211.0 L830.00,209.1 L830.16,210.6 L830.31,208.6 L830.47,208.3 L830.63,207.1 L830.79,210.4 L830.94,210.7 L831.10,203.6 L831.25,207.3 L831.40,211.6 L831.56,207.4 L831.71,211.6 L831.86,207.4 L832.01,208.1 L832.16,209.3 L832.32,210.5 L832.47,208.7 L832.62,209.2 L832.77,211.4 L832.92,211.6 L833.08,212.9 L833.23,210.2 L833.38,209.3 L833.53,215.2 L833.68,212.6 L833.84,214.7 L833.99,214.1 L834.14,216.2 L834.29,215.5 L834.44,214.6 L834.60,219.6 L834.75,215.3 L834.90,216.3 L835.06,209.3 L835.21,214.0 L835.37,211.3 L835.53,210.3 L835.69,210.8 L835.84,210.3 L836.00,211.0 L836.16,208.0 L836.31,205.9 L836.47,206.4 L836.63,204.5 L836.79,205.0 L836.94,203.9 L837.10,201.9 L837.26,202.1 L837.42,195.8 L837.58,195.5 L837.74,191.2 L837.90,192.0 L838.05,190.9 L838.21,192.8 L838.36,190.7 L838.51,193.3 L838.67,194.7 L838.82,191.9 L838.97,196.1 L839.13,195.1 L839.28,197.4 L839.43,197.1 L839.59,198.1 L839.74,197.7 L839.89,196.7 L840.05,199.3 L840.20,199.8 L840.36,199.0 L840.51,196.1 L840.67,198.2 L840.83,195.9 L840.99,196.9 L841.14,192.9 L841.30,193.2 L841.46,190.7 L841.61,190.4 L841.77,191.5 L841.93,192.5 L842.09,191.2 L842.24,189.1 L842.40,188.9 L842.55,187.7 L842.71,185.5 L842.86,188.3 L843.02,191.3 L843.17,185.4 L843.32,181.8 L843.48,184.4 L843.63,181.3 L843.78,182.3 L843.94,179.0 L844.09,185.0 L844.25,177.9 L844.40,178.8 L844.57,181.8 L844.73,184.8 L844.90,188.5 L845.07,194.0 L845.23,198.9 L845.40,200.8 L845.55,201.8 L845.71,198.8 L845.87,195.3 L846.02,197.3 L846.17,195.5 L846.33,192.2 L846.49,190.6 L846.64,189.1 L846.79,188.0 L846.95,190.5 L847.11,187.1 L847.26,187.0 L847.41,186.8 L847.57,182.9 L847.73,181.0 L847.88,180.7 L848.03,179.2 L848.19,176.8 L848.35,177.5 L848.50,177.0 L848.66,175.0 L848.81,177.6 L848.97,178.7 L849.13,179.4 L849.29,181.7 L849.44,178.0 L849.60,181.5 L849.76,180.2 L849.91,185.2 L850.07,184.8 L850.23,184.1 L850.39,183.3 L850.54,184.2 L850.70,189.0 L850.85,187.1 L851.01,186.2 L851.16,186.0 L851.31,180.8 L851.47,182.8 L851.62,181.8 L851.77,180.5 L851.93,177.6 L852.08,178.4 L852.23,175.1 L852.39,171.9 L852.54,172.6 L852.69,172.3 L852.85,172.9 L853.00,170.0 L853.15,169.0 L853.30,171.2 L853.45,173.3 L853.60,170.3 L853.75,173.1 L853.90,175.3 L854.05,177.4 L854.20,177.8 L854.35,176.8 L854.50,180.4 L854.65,182.2 L854.80,178.5 L854.95,173.7 L855.10,173.6 L855.25,168.3 L855.40,168.0 L855.55,168.7 L855.70,167.3 L855.85,163.9 L856.00,162.5 L856.15,157.7 L856.30,163.3 L856.45,162.2 L856.60,161.9 L856.75,161.2 L856.90,165.4 L857.05,166.5 L857.20,163.2 L857.35,166.9 L857.50,169.6 L857.65,166.2 L857.81,165.7 L857.96,163.5 L858.11,161.3 L858.27,162.9 L858.42,159.8 L858.57,159.0 L858.73,155.5 L858.88,157.7 L859.03,156.7 L859.19,155.3 L859.34,153.3 L859.49,157.3 L859.65,152.7 L859.80,153.3 L859.95,155.5 L860.11,153.0 L860.26,154.3 L860.41,152.9 L860.56,153.5 L860.72,154.3 L860.87,152.9 L861.02,148.9 L861.18,153.1 L861.33,150.5 L861.48,151.6 L861.64,150.3 L861.79,151.2 L861.94,151.9 L862.09,150.2 L862.25,145.3 L862.40,148.3 L862.55,147.2 L862.71,147.7 L862.86,147.2 L863.01,143.2 L863.17,140.5 L863.32,142.8 L863.47,139.9 L863.63,136.5 L863.78,140.8 L863.93,140.8 L864.09,139.0 L864.24,135.3 L864.39,134.0 L864.55,130.6 L864.70,130.4 L864.85,134.9 L865.01,132.4 L865.16,134.2 L865.31,132.6 L865.47,135.7 L865.62,133.5 L865.77,130.9 L865.93,130.6 L866.08,132.3 L866.23,133.6 L866.39,133.3 L866.54,131.2 L866.69,132.9 L866.85,134.5 L867.00,131.6 L867.15,135.9 L867.30,136.4 L867.45,139.3 L867.60,139.4 L867.75,140.0 L867.90,140.5 L868.05,141.5 L868.20,144.9 L868.35,143.2 L868.50,149.3 L868.65,145.2 L868.80,144.1 L868.95,143.7 L869.10,139.2 L869.25,139.2 L869.40,136.9 L869.55,132.2 L869.70,132.2 L869.85,131.3 L870.00,127.8 L870.16,130.0 L870.31,126.3 L870.47,126.6 L870.63,124.6 L870.79,126.7 L870.94,126.4 L871.10,128.9 L871.26,121.0 L871.41,128.5 L871.57,130.0 L871.73,121.2 L871.89,123.0 L872.04,125.8 L872.20,126.1 L872.36,122.8 L872.52,117.5 L872.68,122.0 L872.84,115.4 L873.00,117.0 L873.15,113.8 L873.30,115.0 L873.45,115.2 L873.60,110.7 L873.75,109.8 L873.90,110.7 L874.05,112.3 L874.20,109.8 L874.35,110.9 L874.50,106.8 L874.65,107.7 L874.80,105.0 L874.95,110.8 L875.10,112.9 L875.25,109.7 L875.40,112.0 L875.55,115.0 L875.70,112.1 L875.85,116.1 L876.00,116.8 L876.15,110.3 L876.30,111.9 L876.45,113.0 L876.60,109.6 L876.75,107.9 L876.90,113.0 L877.05,112.1 L877.20,107.1 L877.35,106.4 L877.50,104.8 L877.65,108.3 L877.81,104.2 L877.96,102.0 L878.11,107.3 L878.27,105.2 L878.42,104.3 L878.57,103.8 L878.73,101.6 L878.88,103.4 L879.03,102.4 L879.19,102.1 L879.34,99.9 L879.49,101.4 L879.65,98.7 L879.80,102.4 L879.96,101.9 L880.11,98.9 L880.27,98.9 L880.43,100.0 L880.59,99.6 L880.74,102.8 L880.90,102.1 L881.06,101.6 L881.21,101.2 L881.37,104.0 L881.53,101.1 L881.69,101.5 L881.84,105.4 L882.00,100.0 L882.16,101.4 L882.32,96.1 L882.48,94.5 L882.64,88.5 L882.80,87.0 L882.95,86.0 L883.10,86.0 L883.25,87.4 L883.40,84.1 L883.55,88.7 L883.70,86.7 L883.85,85.6 L884.00,84.7 L884.15,85.1 L884.30,85.4 L884.45,86.7 L884.60,86.8 L884.75,87.9 L884.90,88.8 L885.05,89.1 L885.20,89.5 L885.35,89.1 L885.50,91.2 L885.66,89.7 L885.81,90.7 L885.97,92.1 L886.13,93.2 L886.29,93.7 L886.44,92.1 L886.60,92.4" stroke="#ff0000" stroke-width="1" fill="none" stroke-linejoin="round" shape-rendering="crispEdges"/>
<filter id="crisp" filterUnits="userSpaceOnUse" x="0" y="0" width="939" height="663"><feComponentTransfer><feFuncA type="discrete" tableValues="0 1"/></feComponentTransfer></filter><g filter="url(#crisp)">
<text x="30" y="562" font-size="12.5" textLength="40" lengthAdjust="spacingAndGlyphs">1.0e-18</text>
<text x="30" y="473" font-size="12.5" textLength="40" lengthAdjust="spacingAndGlyphs">1.5e-18</text>
<text x="30" y="384" font-size="12.5" textLength="40" lengthAdjust="spacingAndGlyphs">2.0e-18</text>
<text x="30" y="295" font-size="12.5" textLength="40" lengthAdjust="spacingAndGlyphs">2.5e-18</text>
<text x="30" y="205" font-size="12.5" textLength="40" lengthAdjust="spacingAndGlyphs">3.0e-18</text>
<text x="30" y="116" font-size="12.5" textLength="40" lengthAdjust="spacingAndGlyphs">3.5e-18</text>
<text x="31" y="27" font-size="12.5" textLength="39" lengthAdjust="spacingAndGlyphs">4.0e-18</text>
<text x="97" y="579" font-size="12.5" textLength="20" lengthAdjust="spacingAndGlyphs">240</text>
<text x="232" y="579" font-size="12.5" textLength="20" lengthAdjust="spacingAndGlyphs">250</text>
<text x="367" y="579" font-size="12.5" textLength="20" lengthAdjust="spacingAndGlyphs">260</text>
<text x="502" y="579" font-size="12.5" textLength="20" lengthAdjust="spacingAndGlyphs">270</text>
<text x="636" y="579" font-size="12.5" textLength="20" lengthAdjust="spacingAndGlyphs">280</text>
<text x="771" y="579" font-size="12.5" textLength="20" lengthAdjust="spacingAndGlyphs">290</text>
<text x="906" y="579" font-size="12.5" textLength="20" lengthAdjust="spacingAndGlyphs">300</text>
<text x="474.5" y="605" font-size="14.5" textLength="45" lengthAdjust="spacingAndGlyphs">X Data</text>
</g>
<filter id="crisp2" filterUnits="userSpaceOnUse" x="0" y="0" width="939" height="663"><feComponentTransfer><feFuncA type="discrete" tableValues="0 0 1 1 1"/></feComponentTransfer></filter>
<g filter="url(#crisp2)">
<text transform="translate(18,290.8) rotate(-90)" font-size="14" text-anchor="middle">Absorption cross section [cm<tspan dy="-8" font-size="10">2</tspan><tspan dy="8"> · molecule</tspan><tspan dy="-8" font-size="10">-1</tspan><tspan dy="8">]</tspan></text>
</g>
<g filter="url(#crisp)">
<text x="475.5" y="634" font-size="16.5" text-anchor="middle">Absorption cross sections of m-dibromobenzene (m-C<tspan dy="5.5" font-size="10.5">6</tspan><tspan dy="-5.5">H</tspan><tspan dy="5.5" font-size="10.5">4</tspan><tspan dy="-5.5">Br</tspan><tspan dy="5.5" font-size="10.5">2</tspan><tspan dy="-5.5">) at room temperature (240-298 nm),</tspan></text>
<text x="476.5" y="658" font-size="16.5" text-anchor="middle">Gorai et al., J. Chem. Phys. 162 (2025) 214303</text>
</g>
</svg></body></html>
